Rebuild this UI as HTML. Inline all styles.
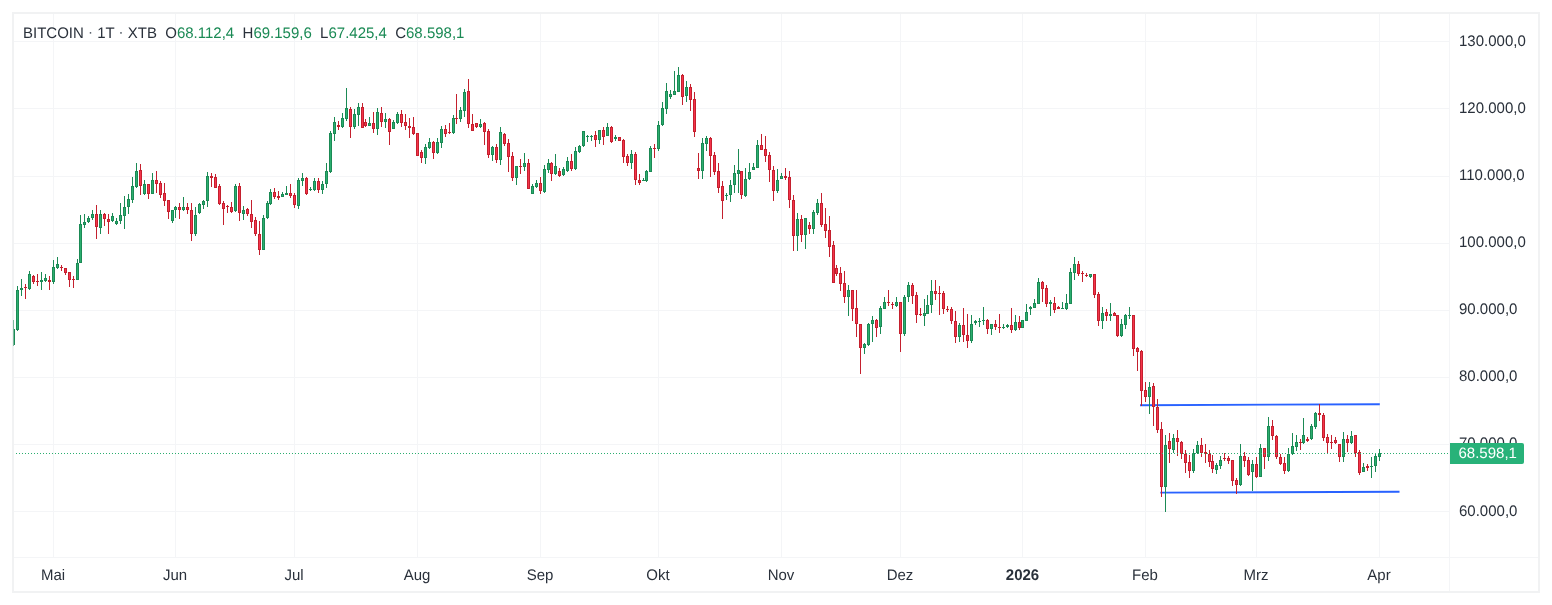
<!DOCTYPE html>
<html lang="de"><head><meta charset="utf-8"><title>BITCOIN</title>
<style>
html,body{margin:0;padding:0;background:#fff;}
body{width:1552px;height:605px;position:relative;overflow:hidden;font-family:"Liberation Sans",sans-serif;font-size:15px;color:#2a313b;text-rendering:geometricPrecision;}
#frame{position:absolute;left:12px;top:12px;width:1524px;height:577px;border:2px solid #f1f2f3;}
#vsep{position:absolute;left:1449px;top:14px;width:1px;height:577px;background:#f4f5f7;}
#hsep{position:absolute;left:14px;top:557px;width:1524px;height:1px;background:#f4f5f7;}
svg{position:absolute;left:0;top:0;}
#legend{position:absolute;left:23px;top:25px;white-space:pre;line-height:18px;height:18px;transform:scaleY(1.02);transform-origin:0 14px;}
#legend .v{color:#1b8a55;}
#legend .d{position:relative;top:-1.5px;color:#59616b;}
.pl{position:absolute;left:1459px;line-height:18px;height:18px;white-space:nowrap;transform:scaleY(1.02);transform-origin:0 4px;}
.tl{position:absolute;top:567px;width:80px;text-align:center;line-height:18px;height:18px;white-space:nowrap;transform:scaleY(1.02);transform-origin:50% 9px;}
.tl.b{font-weight:bold;transform:translateX(0.5px) scaleY(1.02);}
#cur{position:absolute;left:1450px;top:443px;width:74px;height:21px;background:#28b279;border-radius:0 2px 2px 0;color:#fff;line-height:21px;}
#cur span{position:absolute;left:8.5px;top:-1px;transform:translateY(0.7px);}
</style></head><body>
<div id="frame"></div>
<svg width="1552" height="605" viewBox="0 0 1552 605" shape-rendering="crispEdges">
<rect x="14" y="41" width="1435" height="1" fill="#f4f5f7"/>
<rect x="14" y="108" width="1435" height="1" fill="#f4f5f7"/>
<rect x="14" y="176" width="1435" height="1" fill="#f4f5f7"/>
<rect x="14" y="243" width="1435" height="1" fill="#f4f5f7"/>
<rect x="14" y="310" width="1435" height="1" fill="#f4f5f7"/>
<rect x="14" y="377" width="1435" height="1" fill="#f4f5f7"/>
<rect x="14" y="444" width="1435" height="1" fill="#f4f5f7"/>
<rect x="14" y="511" width="1435" height="1" fill="#f4f5f7"/>
<rect x="53" y="14" width="1" height="543" fill="#f4f5f7"/>
<rect x="175" y="14" width="1" height="543" fill="#f4f5f7"/>
<rect x="294" y="14" width="1" height="543" fill="#f4f5f7"/>
<rect x="417" y="14" width="1" height="543" fill="#f4f5f7"/>
<rect x="540" y="14" width="1" height="543" fill="#f4f5f7"/>
<rect x="658" y="14" width="1" height="543" fill="#f4f5f7"/>
<rect x="781" y="14" width="1" height="543" fill="#f4f5f7"/>
<rect x="900" y="14" width="1" height="543" fill="#f4f5f7"/>
<rect x="1022" y="14" width="1" height="543" fill="#f4f5f7"/>
<rect x="1145" y="14" width="1" height="543" fill="#f4f5f7"/>
<rect x="1256" y="14" width="1" height="543" fill="#f4f5f7"/>
<rect x="1379" y="14" width="1" height="543" fill="#f4f5f7"/>
<g shape-rendering="auto" stroke="#2962ff" stroke-width="1.9" stroke-linecap="butt">
<line x1="1140" y1="405.2" x2="1379.8" y2="404.2"/>
<line x1="1160.3" y1="492.6" x2="1399.5" y2="491.7"/>
</g>
<g id="candles">
<rect x="13" y="320" width="1" height="26" fill="#1b8a55" opacity="0.55"/><rect x="14" y="329" width="1" height="16" fill="#1b8a55"/>
<rect x="17" y="286" width="1" height="45" fill="#1b8a55"/>
<rect x="16" y="290" width="3" height="40" fill="#1b8a55"/><rect x="17" y="291" width="1" height="38" fill="#2bae6f"/>
<rect x="21" y="279" width="1" height="17" fill="#1b8a55"/>
<rect x="20" y="288" width="3" height="2" fill="#1b8a55"/>
<rect x="25" y="284" width="1" height="15" fill="#c4202e"/>
<rect x="24" y="287" width="3" height="1" fill="#c4202e"/>
<rect x="29" y="271" width="1" height="19" fill="#1b8a55"/>
<rect x="28" y="274" width="3" height="15" fill="#1b8a55"/><rect x="29" y="275" width="1" height="13" fill="#2bae6f"/>
<rect x="33" y="275" width="1" height="9" fill="#c4202e"/>
<rect x="32" y="276" width="3" height="6" fill="#c4202e"/><rect x="33" y="277" width="1" height="4" fill="#f5334b"/>
<rect x="37" y="274" width="1" height="12" fill="#c4202e"/>
<rect x="36" y="281" width="3" height="1" fill="#c4202e"/>
<rect x="41" y="272" width="1" height="18" fill="#1b8a55"/>
<rect x="40" y="280" width="3" height="2" fill="#1b8a55"/>
<rect x="45" y="274" width="1" height="8" fill="#1b8a55"/>
<rect x="44" y="278" width="3" height="3" fill="#1b8a55"/><rect x="45" y="279" width="1" height="1" fill="#2bae6f"/>
<rect x="49" y="276" width="1" height="14" fill="#c4202e"/>
<rect x="48" y="280" width="3" height="2" fill="#c4202e"/>
<rect x="53" y="260" width="1" height="24" fill="#1b8a55"/>
<rect x="52" y="267" width="3" height="15" fill="#1b8a55"/><rect x="53" y="268" width="1" height="13" fill="#2bae6f"/>
<rect x="57" y="257" width="1" height="12" fill="#1b8a55"/>
<rect x="56" y="264" width="3" height="4" fill="#1b8a55"/><rect x="57" y="265" width="1" height="2" fill="#2bae6f"/>
<rect x="61" y="265" width="1" height="6" fill="#c4202e"/>
<rect x="60" y="267" width="3" height="1" fill="#c4202e"/>
<rect x="65" y="268" width="1" height="7" fill="#c4202e"/>
<rect x="64" y="268" width="3" height="5" fill="#c4202e"/><rect x="65" y="269" width="1" height="3" fill="#f5334b"/>
<rect x="69" y="272" width="1" height="15" fill="#c4202e"/>
<rect x="68" y="272" width="3" height="8" fill="#c4202e"/><rect x="69" y="273" width="1" height="6" fill="#f5334b"/>
<rect x="73" y="276" width="1" height="12" fill="#c4202e"/>
<rect x="72" y="279" width="3" height="1" fill="#c4202e"/>
<rect x="77" y="259" width="1" height="21" fill="#1b8a55"/>
<rect x="76" y="263" width="3" height="17" fill="#1b8a55"/><rect x="77" y="264" width="1" height="15" fill="#2bae6f"/>
<rect x="80" y="215" width="1" height="48" fill="#1b8a55"/>
<rect x="79" y="224" width="3" height="39" fill="#1b8a55"/><rect x="80" y="225" width="1" height="37" fill="#2bae6f"/>
<rect x="84" y="214" width="1" height="14" fill="#1b8a55"/>
<rect x="83" y="222" width="3" height="3" fill="#1b8a55"/><rect x="84" y="223" width="1" height="1" fill="#2bae6f"/>
<rect x="88" y="216" width="1" height="7" fill="#1b8a55"/>
<rect x="87" y="218" width="3" height="4" fill="#1b8a55"/><rect x="88" y="219" width="1" height="2" fill="#2bae6f"/>
<rect x="92" y="210" width="1" height="10" fill="#1b8a55"/>
<rect x="91" y="214" width="3" height="4" fill="#1b8a55"/><rect x="92" y="215" width="1" height="2" fill="#2bae6f"/>
<rect x="96" y="205" width="1" height="34" fill="#c4202e"/>
<rect x="95" y="214" width="3" height="13" fill="#c4202e"/><rect x="96" y="215" width="1" height="11" fill="#f5334b"/>
<rect x="100" y="210" width="1" height="24" fill="#1b8a55"/>
<rect x="99" y="214" width="3" height="14" fill="#1b8a55"/><rect x="100" y="215" width="1" height="12" fill="#2bae6f"/>
<rect x="104" y="213" width="1" height="13" fill="#c4202e"/>
<rect x="103" y="214" width="3" height="5" fill="#c4202e"/><rect x="104" y="215" width="1" height="3" fill="#f5334b"/>
<rect x="108" y="214" width="1" height="20" fill="#c4202e"/>
<rect x="107" y="219" width="3" height="3" fill="#c4202e"/><rect x="108" y="220" width="1" height="1" fill="#f5334b"/>
<rect x="112" y="213" width="1" height="9" fill="#1b8a55"/>
<rect x="111" y="216" width="3" height="5" fill="#1b8a55"/><rect x="112" y="217" width="1" height="3" fill="#2bae6f"/>
<rect x="116" y="218" width="1" height="7" fill="#1b8a55"/>
<rect x="115" y="221" width="3" height="3" fill="#1b8a55"/><rect x="116" y="222" width="1" height="1" fill="#2bae6f"/>
<rect x="120" y="203" width="1" height="21" fill="#1b8a55"/>
<rect x="119" y="215" width="3" height="6" fill="#1b8a55"/><rect x="120" y="216" width="1" height="4" fill="#2bae6f"/>
<rect x="124" y="196" width="1" height="33" fill="#1b8a55"/>
<rect x="123" y="207" width="3" height="9" fill="#1b8a55"/><rect x="124" y="208" width="1" height="7" fill="#2bae6f"/>
<rect x="128" y="194" width="1" height="20" fill="#1b8a55"/>
<rect x="127" y="199" width="3" height="8" fill="#1b8a55"/><rect x="128" y="200" width="1" height="6" fill="#2bae6f"/>
<rect x="132" y="177" width="1" height="26" fill="#1b8a55"/>
<rect x="131" y="186" width="3" height="14" fill="#1b8a55"/><rect x="132" y="187" width="1" height="12" fill="#2bae6f"/>
<rect x="136" y="163" width="1" height="25" fill="#1b8a55"/>
<rect x="135" y="171" width="3" height="16" fill="#1b8a55"/><rect x="136" y="172" width="1" height="14" fill="#2bae6f"/>
<rect x="140" y="164" width="1" height="31" fill="#c4202e"/>
<rect x="139" y="170" width="3" height="16" fill="#c4202e"/><rect x="140" y="171" width="1" height="14" fill="#f5334b"/>
<rect x="144" y="180" width="1" height="15" fill="#1b8a55"/>
<rect x="143" y="184" width="3" height="10" fill="#1b8a55"/><rect x="144" y="185" width="1" height="8" fill="#2bae6f"/>
<rect x="148" y="184" width="1" height="15" fill="#c4202e"/>
<rect x="147" y="184" width="3" height="10" fill="#c4202e"/><rect x="148" y="185" width="1" height="8" fill="#f5334b"/>
<rect x="152" y="173" width="1" height="21" fill="#1b8a55"/>
<rect x="151" y="180" width="3" height="14" fill="#1b8a55"/><rect x="152" y="181" width="1" height="12" fill="#2bae6f"/>
<rect x="156" y="171" width="1" height="22" fill="#c4202e"/>
<rect x="155" y="180" width="3" height="4" fill="#c4202e"/><rect x="156" y="181" width="1" height="2" fill="#f5334b"/>
<rect x="160" y="181" width="1" height="17" fill="#c4202e"/>
<rect x="159" y="183" width="3" height="12" fill="#c4202e"/><rect x="160" y="184" width="1" height="10" fill="#f5334b"/>
<rect x="164" y="183" width="1" height="23" fill="#c4202e"/>
<rect x="163" y="193" width="3" height="8" fill="#c4202e"/><rect x="164" y="194" width="1" height="6" fill="#f5334b"/>
<rect x="168" y="200" width="1" height="19" fill="#c4202e"/>
<rect x="167" y="200" width="3" height="12" fill="#c4202e"/><rect x="168" y="201" width="1" height="10" fill="#f5334b"/>
<rect x="172" y="210" width="1" height="13" fill="#1b8a55"/>
<rect x="171" y="210" width="3" height="11" fill="#1b8a55"/><rect x="172" y="211" width="1" height="9" fill="#2bae6f"/>
<rect x="175" y="206" width="1" height="12" fill="#1b8a55"/>
<rect x="174" y="207" width="3" height="3" fill="#1b8a55"/><rect x="175" y="208" width="1" height="1" fill="#2bae6f"/>
<rect x="179" y="203" width="1" height="16" fill="#c4202e"/>
<rect x="178" y="207" width="3" height="3" fill="#c4202e"/><rect x="179" y="208" width="1" height="1" fill="#f5334b"/>
<rect x="183" y="197" width="1" height="14" fill="#1b8a55"/>
<rect x="182" y="207" width="3" height="3" fill="#1b8a55"/><rect x="183" y="208" width="1" height="1" fill="#2bae6f"/>
<rect x="187" y="203" width="1" height="11" fill="#c4202e"/>
<rect x="186" y="207" width="3" height="3" fill="#c4202e"/><rect x="187" y="208" width="1" height="1" fill="#f5334b"/>
<rect x="191" y="203" width="1" height="38" fill="#c4202e"/>
<rect x="190" y="210" width="3" height="24" fill="#c4202e"/><rect x="191" y="211" width="1" height="22" fill="#f5334b"/>
<rect x="195" y="207" width="1" height="29" fill="#1b8a55"/>
<rect x="194" y="215" width="3" height="19" fill="#1b8a55"/><rect x="195" y="216" width="1" height="17" fill="#2bae6f"/>
<rect x="199" y="203" width="1" height="11" fill="#1b8a55"/>
<rect x="198" y="204" width="3" height="9" fill="#1b8a55"/><rect x="199" y="205" width="1" height="7" fill="#2bae6f"/>
<rect x="203" y="200" width="1" height="9" fill="#1b8a55"/>
<rect x="202" y="201" width="3" height="4" fill="#1b8a55"/><rect x="203" y="202" width="1" height="2" fill="#2bae6f"/>
<rect x="207" y="172" width="1" height="35" fill="#1b8a55"/>
<rect x="206" y="176" width="3" height="25" fill="#1b8a55"/><rect x="207" y="177" width="1" height="23" fill="#2bae6f"/>
<rect x="211" y="173" width="1" height="14" fill="#c4202e"/>
<rect x="210" y="176" width="3" height="2" fill="#c4202e"/>
<rect x="215" y="174" width="1" height="14" fill="#c4202e"/>
<rect x="214" y="177" width="3" height="11" fill="#c4202e"/><rect x="215" y="178" width="1" height="9" fill="#f5334b"/>
<rect x="219" y="184" width="1" height="21" fill="#c4202e"/>
<rect x="218" y="186" width="3" height="18" fill="#c4202e"/><rect x="219" y="187" width="1" height="16" fill="#f5334b"/>
<rect x="223" y="201" width="1" height="24" fill="#c4202e"/>
<rect x="222" y="203" width="3" height="6" fill="#c4202e"/><rect x="223" y="204" width="1" height="4" fill="#f5334b"/>
<rect x="227" y="205" width="1" height="8" fill="#c4202e"/>
<rect x="226" y="206" width="3" height="1" fill="#c4202e"/>
<rect x="231" y="202" width="1" height="11" fill="#c4202e"/>
<rect x="230" y="207" width="3" height="5" fill="#c4202e"/><rect x="231" y="208" width="1" height="3" fill="#f5334b"/>
<rect x="235" y="184" width="1" height="28" fill="#1b8a55"/>
<rect x="234" y="186" width="3" height="25" fill="#1b8a55"/><rect x="235" y="187" width="1" height="23" fill="#2bae6f"/>
<rect x="239" y="183" width="1" height="38" fill="#c4202e"/>
<rect x="238" y="186" width="3" height="27" fill="#c4202e"/><rect x="239" y="187" width="1" height="25" fill="#f5334b"/>
<rect x="243" y="206" width="1" height="14" fill="#1b8a55"/>
<rect x="242" y="210" width="3" height="4" fill="#1b8a55"/><rect x="243" y="211" width="1" height="2" fill="#2bae6f"/>
<rect x="247" y="208" width="1" height="8" fill="#c4202e"/>
<rect x="246" y="209" width="3" height="5" fill="#c4202e"/><rect x="247" y="210" width="1" height="3" fill="#f5334b"/>
<rect x="251" y="200" width="1" height="28" fill="#c4202e"/>
<rect x="250" y="214" width="3" height="8" fill="#c4202e"/><rect x="251" y="215" width="1" height="6" fill="#f5334b"/>
<rect x="255" y="217" width="1" height="19" fill="#c4202e"/>
<rect x="254" y="220" width="3" height="14" fill="#c4202e"/><rect x="255" y="221" width="1" height="12" fill="#f5334b"/>
<rect x="259" y="221" width="1" height="34" fill="#c4202e"/>
<rect x="258" y="234" width="3" height="16" fill="#c4202e"/><rect x="259" y="235" width="1" height="14" fill="#f5334b"/>
<rect x="263" y="215" width="1" height="35" fill="#1b8a55"/>
<rect x="262" y="218" width="3" height="32" fill="#1b8a55"/><rect x="263" y="219" width="1" height="30" fill="#2bae6f"/>
<rect x="267" y="201" width="1" height="18" fill="#1b8a55"/>
<rect x="266" y="203" width="3" height="15" fill="#1b8a55"/><rect x="267" y="204" width="1" height="13" fill="#2bae6f"/>
<rect x="270" y="189" width="1" height="16" fill="#1b8a55"/>
<rect x="269" y="192" width="3" height="12" fill="#1b8a55"/><rect x="270" y="193" width="1" height="10" fill="#2bae6f"/>
<rect x="274" y="188" width="1" height="11" fill="#c4202e"/>
<rect x="273" y="192" width="3" height="5" fill="#c4202e"/><rect x="274" y="193" width="1" height="3" fill="#f5334b"/>
<rect x="278" y="191" width="1" height="9" fill="#c4202e"/>
<rect x="277" y="196" width="3" height="2" fill="#c4202e"/>
<rect x="282" y="192" width="1" height="5" fill="#1b8a55"/>
<rect x="281" y="194" width="3" height="3" fill="#1b8a55"/><rect x="282" y="195" width="1" height="1" fill="#2bae6f"/>
<rect x="286" y="186" width="1" height="9" fill="#1b8a55"/>
<rect x="285" y="193" width="3" height="2" fill="#1b8a55"/>
<rect x="290" y="184" width="1" height="14" fill="#c4202e"/>
<rect x="289" y="193" width="3" height="3" fill="#c4202e"/><rect x="290" y="194" width="1" height="1" fill="#f5334b"/>
<rect x="294" y="193" width="1" height="15" fill="#c4202e"/>
<rect x="293" y="195" width="3" height="10" fill="#c4202e"/><rect x="294" y="196" width="1" height="8" fill="#f5334b"/>
<rect x="298" y="178" width="1" height="31" fill="#1b8a55"/>
<rect x="297" y="180" width="3" height="26" fill="#1b8a55"/><rect x="298" y="181" width="1" height="24" fill="#2bae6f"/>
<rect x="302" y="173" width="1" height="13" fill="#1b8a55"/>
<rect x="301" y="178" width="3" height="3" fill="#1b8a55"/><rect x="302" y="179" width="1" height="1" fill="#2bae6f"/>
<rect x="306" y="177" width="1" height="18" fill="#c4202e"/>
<rect x="305" y="178" width="3" height="16" fill="#c4202e"/><rect x="306" y="179" width="1" height="14" fill="#f5334b"/>
<rect x="310" y="187" width="1" height="4" fill="#1b8a55"/>
<rect x="309" y="189" width="3" height="1" fill="#1b8a55"/>
<rect x="314" y="178" width="1" height="13" fill="#1b8a55"/>
<rect x="313" y="181" width="3" height="9" fill="#1b8a55"/><rect x="314" y="182" width="1" height="7" fill="#2bae6f"/>
<rect x="318" y="178" width="1" height="15" fill="#c4202e"/>
<rect x="317" y="181" width="3" height="9" fill="#c4202e"/><rect x="318" y="182" width="1" height="7" fill="#f5334b"/>
<rect x="322" y="181" width="1" height="13" fill="#1b8a55"/>
<rect x="321" y="184" width="3" height="6" fill="#1b8a55"/><rect x="322" y="185" width="1" height="4" fill="#2bae6f"/>
<rect x="326" y="163" width="1" height="25" fill="#1b8a55"/>
<rect x="325" y="171" width="3" height="13" fill="#1b8a55"/><rect x="326" y="172" width="1" height="11" fill="#2bae6f"/>
<rect x="330" y="131" width="1" height="42" fill="#1b8a55"/>
<rect x="329" y="133" width="3" height="39" fill="#1b8a55"/><rect x="330" y="134" width="1" height="37" fill="#2bae6f"/>
<rect x="334" y="117" width="1" height="24" fill="#1b8a55"/>
<rect x="333" y="122" width="3" height="12" fill="#1b8a55"/><rect x="334" y="123" width="1" height="10" fill="#2bae6f"/>
<rect x="338" y="121" width="1" height="9" fill="#c4202e"/>
<rect x="337" y="125" width="3" height="2" fill="#c4202e"/>
<rect x="342" y="113" width="1" height="15" fill="#1b8a55"/>
<rect x="341" y="118" width="3" height="9" fill="#1b8a55"/><rect x="342" y="119" width="1" height="7" fill="#2bae6f"/>
<rect x="346" y="88" width="1" height="33" fill="#1b8a55"/>
<rect x="345" y="108" width="3" height="11" fill="#1b8a55"/><rect x="346" y="109" width="1" height="9" fill="#2bae6f"/>
<rect x="350" y="107" width="1" height="31" fill="#c4202e"/>
<rect x="349" y="109" width="3" height="18" fill="#c4202e"/><rect x="350" y="110" width="1" height="16" fill="#f5334b"/>
<rect x="354" y="109" width="1" height="20" fill="#1b8a55"/>
<rect x="353" y="114" width="3" height="13" fill="#1b8a55"/><rect x="354" y="115" width="1" height="11" fill="#2bae6f"/>
<rect x="358" y="103" width="1" height="23" fill="#1b8a55"/>
<rect x="357" y="107" width="3" height="8" fill="#1b8a55"/><rect x="358" y="108" width="1" height="6" fill="#2bae6f"/>
<rect x="362" y="103" width="1" height="25" fill="#c4202e"/>
<rect x="361" y="107" width="3" height="21" fill="#c4202e"/><rect x="362" y="108" width="1" height="19" fill="#f5334b"/>
<rect x="365" y="119" width="1" height="8" fill="#c4202e"/>
<rect x="364" y="122" width="3" height="4" fill="#c4202e"/><rect x="365" y="123" width="1" height="2" fill="#f5334b"/>
<rect x="369" y="117" width="1" height="9" fill="#1b8a55"/>
<rect x="368" y="123" width="3" height="3" fill="#1b8a55"/><rect x="369" y="124" width="1" height="1" fill="#2bae6f"/>
<rect x="373" y="112" width="1" height="21" fill="#c4202e"/>
<rect x="372" y="123" width="3" height="6" fill="#c4202e"/><rect x="373" y="124" width="1" height="4" fill="#f5334b"/>
<rect x="377" y="108" width="1" height="27" fill="#1b8a55"/>
<rect x="376" y="112" width="3" height="17" fill="#1b8a55"/><rect x="377" y="113" width="1" height="15" fill="#2bae6f"/>
<rect x="381" y="107" width="1" height="20" fill="#c4202e"/>
<rect x="380" y="113" width="3" height="9" fill="#c4202e"/><rect x="381" y="114" width="1" height="7" fill="#f5334b"/>
<rect x="385" y="113" width="1" height="15" fill="#1b8a55"/>
<rect x="384" y="119" width="3" height="3" fill="#1b8a55"/><rect x="385" y="120" width="1" height="1" fill="#2bae6f"/>
<rect x="389" y="118" width="1" height="27" fill="#c4202e"/>
<rect x="388" y="119" width="3" height="13" fill="#c4202e"/><rect x="389" y="120" width="1" height="11" fill="#f5334b"/>
<rect x="393" y="120" width="1" height="9" fill="#1b8a55"/>
<rect x="392" y="122" width="3" height="7" fill="#1b8a55"/><rect x="393" y="123" width="1" height="5" fill="#2bae6f"/>
<rect x="397" y="112" width="1" height="12" fill="#1b8a55"/>
<rect x="396" y="114" width="3" height="9" fill="#1b8a55"/><rect x="397" y="115" width="1" height="7" fill="#2bae6f"/>
<rect x="401" y="110" width="1" height="17" fill="#c4202e"/>
<rect x="400" y="114" width="3" height="9" fill="#c4202e"/><rect x="401" y="115" width="1" height="7" fill="#f5334b"/>
<rect x="405" y="114" width="1" height="16" fill="#c4202e"/>
<rect x="404" y="122" width="3" height="4" fill="#c4202e"/><rect x="405" y="123" width="1" height="2" fill="#f5334b"/>
<rect x="409" y="118" width="1" height="20" fill="#c4202e"/>
<rect x="408" y="126" width="3" height="2" fill="#c4202e"/>
<rect x="413" y="117" width="1" height="18" fill="#c4202e"/>
<rect x="412" y="127" width="3" height="7" fill="#c4202e"/><rect x="413" y="128" width="1" height="5" fill="#f5334b"/>
<rect x="417" y="133" width="1" height="23" fill="#c4202e"/>
<rect x="416" y="133" width="3" height="23" fill="#c4202e"/><rect x="417" y="134" width="1" height="21" fill="#f5334b"/>
<rect x="421" y="150" width="1" height="13" fill="#c4202e"/>
<rect x="420" y="152" width="3" height="6" fill="#c4202e"/><rect x="421" y="153" width="1" height="4" fill="#f5334b"/>
<rect x="425" y="144" width="1" height="20" fill="#1b8a55"/>
<rect x="424" y="147" width="3" height="11" fill="#1b8a55"/><rect x="425" y="148" width="1" height="9" fill="#2bae6f"/>
<rect x="429" y="138" width="1" height="11" fill="#1b8a55"/>
<rect x="428" y="142" width="3" height="6" fill="#1b8a55"/><rect x="429" y="143" width="1" height="4" fill="#2bae6f"/>
<rect x="433" y="141" width="1" height="18" fill="#c4202e"/>
<rect x="432" y="142" width="3" height="11" fill="#c4202e"/><rect x="433" y="143" width="1" height="9" fill="#f5334b"/>
<rect x="437" y="138" width="1" height="16" fill="#1b8a55"/>
<rect x="436" y="142" width="3" height="11" fill="#1b8a55"/><rect x="437" y="143" width="1" height="9" fill="#2bae6f"/>
<rect x="441" y="126" width="1" height="22" fill="#1b8a55"/>
<rect x="440" y="129" width="3" height="14" fill="#1b8a55"/><rect x="441" y="130" width="1" height="12" fill="#2bae6f"/>
<rect x="445" y="125" width="1" height="12" fill="#c4202e"/>
<rect x="444" y="129" width="3" height="5" fill="#c4202e"/><rect x="445" y="130" width="1" height="3" fill="#f5334b"/>
<rect x="449" y="123" width="1" height="11" fill="#c4202e"/>
<rect x="448" y="132" width="3" height="1" fill="#c4202e"/>
<rect x="453" y="115" width="1" height="19" fill="#1b8a55"/>
<rect x="452" y="118" width="3" height="15" fill="#1b8a55"/><rect x="453" y="119" width="1" height="13" fill="#2bae6f"/>
<rect x="456" y="94" width="1" height="30" fill="#c4202e"/>
<rect x="455" y="118" width="3" height="1" fill="#c4202e"/>
<rect x="460" y="107" width="1" height="15" fill="#1b8a55"/>
<rect x="459" y="110" width="3" height="9" fill="#1b8a55"/><rect x="460" y="111" width="1" height="7" fill="#2bae6f"/>
<rect x="464" y="89" width="1" height="28" fill="#1b8a55"/>
<rect x="463" y="92" width="3" height="19" fill="#1b8a55"/><rect x="464" y="93" width="1" height="17" fill="#2bae6f"/>
<rect x="468" y="79" width="1" height="49" fill="#c4202e"/>
<rect x="467" y="91" width="3" height="33" fill="#c4202e"/><rect x="468" y="92" width="1" height="31" fill="#f5334b"/>
<rect x="472" y="114" width="1" height="17" fill="#c4202e"/>
<rect x="471" y="124" width="3" height="7" fill="#c4202e"/><rect x="472" y="125" width="1" height="5" fill="#f5334b"/>
<rect x="476" y="123" width="1" height="5" fill="#c4202e"/>
<rect x="475" y="123" width="3" height="4" fill="#c4202e"/><rect x="476" y="124" width="1" height="2" fill="#f5334b"/>
<rect x="480" y="119" width="1" height="9" fill="#1b8a55"/>
<rect x="479" y="124" width="3" height="3" fill="#1b8a55"/><rect x="480" y="125" width="1" height="1" fill="#2bae6f"/>
<rect x="484" y="122" width="1" height="23" fill="#c4202e"/>
<rect x="483" y="123" width="3" height="9" fill="#c4202e"/><rect x="484" y="124" width="1" height="7" fill="#f5334b"/>
<rect x="488" y="129" width="1" height="29" fill="#c4202e"/>
<rect x="487" y="131" width="3" height="24" fill="#c4202e"/><rect x="488" y="132" width="1" height="22" fill="#f5334b"/>
<rect x="492" y="146" width="1" height="15" fill="#1b8a55"/>
<rect x="491" y="147" width="3" height="8" fill="#1b8a55"/><rect x="492" y="148" width="1" height="6" fill="#2bae6f"/>
<rect x="496" y="144" width="1" height="19" fill="#c4202e"/>
<rect x="495" y="147" width="3" height="13" fill="#c4202e"/><rect x="496" y="148" width="1" height="11" fill="#f5334b"/>
<rect x="500" y="127" width="1" height="38" fill="#1b8a55"/>
<rect x="499" y="132" width="3" height="28" fill="#1b8a55"/><rect x="500" y="133" width="1" height="26" fill="#2bae6f"/>
<rect x="504" y="133" width="1" height="13" fill="#c4202e"/>
<rect x="503" y="134" width="3" height="10" fill="#c4202e"/><rect x="504" y="135" width="1" height="8" fill="#f5334b"/>
<rect x="508" y="139" width="1" height="33" fill="#c4202e"/>
<rect x="507" y="143" width="3" height="14" fill="#c4202e"/><rect x="508" y="144" width="1" height="12" fill="#f5334b"/>
<rect x="512" y="152" width="1" height="29" fill="#c4202e"/>
<rect x="511" y="156" width="3" height="22" fill="#c4202e"/><rect x="512" y="157" width="1" height="20" fill="#f5334b"/>
<rect x="516" y="166" width="1" height="19" fill="#1b8a55"/>
<rect x="515" y="166" width="3" height="12" fill="#1b8a55"/><rect x="516" y="167" width="1" height="10" fill="#2bae6f"/>
<rect x="520" y="159" width="1" height="15" fill="#c4202e"/>
<rect x="519" y="166" width="3" height="1" fill="#c4202e"/>
<rect x="524" y="153" width="1" height="18" fill="#1b8a55"/>
<rect x="523" y="163" width="3" height="4" fill="#1b8a55"/><rect x="524" y="164" width="1" height="2" fill="#2bae6f"/>
<rect x="528" y="159" width="1" height="30" fill="#c4202e"/>
<rect x="527" y="163" width="3" height="26" fill="#c4202e"/><rect x="528" y="164" width="1" height="24" fill="#f5334b"/>
<rect x="532" y="184" width="1" height="10" fill="#1b8a55"/>
<rect x="531" y="186" width="3" height="8" fill="#1b8a55"/><rect x="532" y="187" width="1" height="6" fill="#2bae6f"/>
<rect x="536" y="180" width="1" height="8" fill="#1b8a55"/>
<rect x="535" y="183" width="3" height="4" fill="#1b8a55"/><rect x="536" y="184" width="1" height="2" fill="#2bae6f"/>
<rect x="540" y="177" width="1" height="17" fill="#c4202e"/>
<rect x="539" y="183" width="3" height="8" fill="#c4202e"/><rect x="540" y="184" width="1" height="6" fill="#f5334b"/>
<rect x="544" y="165" width="1" height="28" fill="#1b8a55"/>
<rect x="543" y="169" width="3" height="23" fill="#1b8a55"/><rect x="544" y="170" width="1" height="21" fill="#2bae6f"/>
<rect x="548" y="159" width="1" height="14" fill="#1b8a55"/>
<rect x="547" y="163" width="3" height="7" fill="#1b8a55"/><rect x="548" y="164" width="1" height="5" fill="#2bae6f"/>
<rect x="551" y="162" width="1" height="19" fill="#c4202e"/>
<rect x="550" y="163" width="3" height="11" fill="#c4202e"/><rect x="551" y="164" width="1" height="9" fill="#f5334b"/>
<rect x="555" y="154" width="1" height="21" fill="#1b8a55"/>
<rect x="554" y="166" width="3" height="8" fill="#1b8a55"/><rect x="555" y="167" width="1" height="6" fill="#2bae6f"/>
<rect x="559" y="168" width="1" height="9" fill="#c4202e"/>
<rect x="558" y="171" width="3" height="5" fill="#c4202e"/><rect x="559" y="172" width="1" height="3" fill="#f5334b"/>
<rect x="563" y="167" width="1" height="9" fill="#1b8a55"/>
<rect x="562" y="169" width="3" height="6" fill="#1b8a55"/><rect x="563" y="170" width="1" height="4" fill="#2bae6f"/>
<rect x="567" y="157" width="1" height="15" fill="#1b8a55"/>
<rect x="566" y="161" width="3" height="10" fill="#1b8a55"/><rect x="567" y="162" width="1" height="8" fill="#2bae6f"/>
<rect x="571" y="154" width="1" height="17" fill="#c4202e"/>
<rect x="570" y="161" width="3" height="8" fill="#c4202e"/><rect x="571" y="162" width="1" height="6" fill="#f5334b"/>
<rect x="575" y="147" width="1" height="23" fill="#1b8a55"/>
<rect x="574" y="151" width="3" height="18" fill="#1b8a55"/><rect x="575" y="152" width="1" height="16" fill="#2bae6f"/>
<rect x="579" y="145" width="1" height="8" fill="#1b8a55"/>
<rect x="578" y="146" width="3" height="6" fill="#1b8a55"/><rect x="579" y="147" width="1" height="4" fill="#2bae6f"/>
<rect x="583" y="131" width="1" height="16" fill="#1b8a55"/>
<rect x="582" y="131" width="3" height="15" fill="#1b8a55"/><rect x="583" y="132" width="1" height="13" fill="#2bae6f"/>
<rect x="587" y="135" width="1" height="7" fill="#1b8a55"/>
<rect x="586" y="136" width="3" height="1" fill="#1b8a55"/>
<rect x="591" y="135" width="1" height="6" fill="#1b8a55"/>
<rect x="590" y="136" width="3" height="1" fill="#1b8a55"/>
<rect x="595" y="131" width="1" height="16" fill="#c4202e"/>
<rect x="594" y="135" width="3" height="5" fill="#c4202e"/><rect x="595" y="136" width="1" height="3" fill="#f5334b"/>
<rect x="599" y="130" width="1" height="14" fill="#1b8a55"/>
<rect x="598" y="130" width="3" height="10" fill="#1b8a55"/><rect x="599" y="131" width="1" height="8" fill="#2bae6f"/>
<rect x="603" y="127" width="1" height="18" fill="#c4202e"/>
<rect x="602" y="130" width="3" height="7" fill="#c4202e"/><rect x="603" y="131" width="1" height="5" fill="#f5334b"/>
<rect x="607" y="123" width="1" height="13" fill="#1b8a55"/>
<rect x="606" y="127" width="3" height="9" fill="#1b8a55"/><rect x="607" y="128" width="1" height="7" fill="#2bae6f"/>
<rect x="611" y="126" width="1" height="17" fill="#c4202e"/>
<rect x="610" y="127" width="3" height="15" fill="#c4202e"/><rect x="611" y="128" width="1" height="13" fill="#f5334b"/>
<rect x="615" y="135" width="1" height="6" fill="#1b8a55"/>
<rect x="614" y="137" width="3" height="2" fill="#1b8a55"/>
<rect x="619" y="137" width="1" height="4" fill="#c4202e"/>
<rect x="618" y="137" width="3" height="4" fill="#c4202e"/><rect x="619" y="138" width="1" height="2" fill="#f5334b"/>
<rect x="623" y="139" width="1" height="24" fill="#c4202e"/>
<rect x="622" y="140" width="3" height="17" fill="#c4202e"/><rect x="623" y="141" width="1" height="15" fill="#f5334b"/>
<rect x="627" y="154" width="1" height="12" fill="#c4202e"/>
<rect x="626" y="156" width="3" height="7" fill="#c4202e"/><rect x="627" y="157" width="1" height="5" fill="#f5334b"/>
<rect x="631" y="150" width="1" height="19" fill="#1b8a55"/>
<rect x="630" y="154" width="3" height="9" fill="#1b8a55"/><rect x="631" y="155" width="1" height="7" fill="#2bae6f"/>
<rect x="635" y="152" width="1" height="33" fill="#c4202e"/>
<rect x="634" y="154" width="3" height="26" fill="#c4202e"/><rect x="635" y="155" width="1" height="24" fill="#f5334b"/>
<rect x="639" y="174" width="1" height="11" fill="#c4202e"/>
<rect x="638" y="180" width="3" height="3" fill="#c4202e"/><rect x="639" y="181" width="1" height="1" fill="#f5334b"/>
<rect x="643" y="178" width="1" height="3" fill="#1b8a55"/>
<rect x="642" y="180" width="3" height="1" fill="#1b8a55"/>
<rect x="646" y="170" width="1" height="12" fill="#1b8a55"/>
<rect x="645" y="171" width="3" height="10" fill="#1b8a55"/><rect x="646" y="172" width="1" height="8" fill="#2bae6f"/>
<rect x="650" y="146" width="1" height="26" fill="#1b8a55"/>
<rect x="649" y="148" width="3" height="24" fill="#1b8a55"/><rect x="650" y="149" width="1" height="22" fill="#2bae6f"/>
<rect x="654" y="144" width="1" height="14" fill="#c4202e"/>
<rect x="653" y="148" width="3" height="1" fill="#c4202e"/>
<rect x="658" y="121" width="1" height="30" fill="#1b8a55"/>
<rect x="657" y="125" width="3" height="24" fill="#1b8a55"/><rect x="658" y="126" width="1" height="22" fill="#2bae6f"/>
<rect x="662" y="102" width="1" height="24" fill="#1b8a55"/>
<rect x="661" y="108" width="3" height="17" fill="#1b8a55"/><rect x="662" y="109" width="1" height="15" fill="#2bae6f"/>
<rect x="666" y="83" width="1" height="31" fill="#1b8a55"/>
<rect x="665" y="91" width="3" height="18" fill="#1b8a55"/><rect x="666" y="92" width="1" height="16" fill="#2bae6f"/>
<rect x="670" y="90" width="1" height="9" fill="#1b8a55"/>
<rect x="669" y="94" width="3" height="3" fill="#1b8a55"/><rect x="670" y="95" width="1" height="1" fill="#2bae6f"/>
<rect x="674" y="71" width="1" height="24" fill="#1b8a55"/>
<rect x="673" y="91" width="3" height="4" fill="#1b8a55"/><rect x="674" y="92" width="1" height="2" fill="#2bae6f"/>
<rect x="678" y="67" width="1" height="25" fill="#1b8a55"/>
<rect x="677" y="75" width="3" height="17" fill="#1b8a55"/><rect x="678" y="76" width="1" height="15" fill="#2bae6f"/>
<rect x="682" y="74" width="1" height="31" fill="#c4202e"/>
<rect x="681" y="75" width="3" height="22" fill="#c4202e"/><rect x="682" y="76" width="1" height="20" fill="#f5334b"/>
<rect x="686" y="81" width="1" height="21" fill="#1b8a55"/>
<rect x="685" y="87" width="3" height="9" fill="#1b8a55"/><rect x="686" y="88" width="1" height="7" fill="#2bae6f"/>
<rect x="690" y="84" width="1" height="27" fill="#c4202e"/>
<rect x="689" y="87" width="3" height="13" fill="#c4202e"/><rect x="690" y="88" width="1" height="11" fill="#f5334b"/>
<rect x="694" y="92" width="1" height="45" fill="#c4202e"/>
<rect x="693" y="99" width="3" height="33" fill="#c4202e"/><rect x="694" y="100" width="1" height="31" fill="#f5334b"/>
<rect x="698" y="153" width="1" height="26" fill="#c4202e"/>
<rect x="697" y="168" width="3" height="3" fill="#c4202e"/><rect x="698" y="169" width="1" height="1" fill="#f5334b"/>
<rect x="702" y="138" width="1" height="41" fill="#1b8a55"/>
<rect x="701" y="143" width="3" height="28" fill="#1b8a55"/><rect x="702" y="144" width="1" height="26" fill="#2bae6f"/>
<rect x="706" y="136" width="1" height="15" fill="#1b8a55"/>
<rect x="705" y="138" width="3" height="6" fill="#1b8a55"/><rect x="706" y="139" width="1" height="4" fill="#2bae6f"/>
<rect x="710" y="137" width="1" height="40" fill="#c4202e"/>
<rect x="709" y="138" width="3" height="18" fill="#c4202e"/><rect x="710" y="139" width="1" height="16" fill="#f5334b"/>
<rect x="714" y="152" width="1" height="23" fill="#c4202e"/>
<rect x="713" y="155" width="3" height="17" fill="#c4202e"/><rect x="714" y="156" width="1" height="15" fill="#f5334b"/>
<rect x="718" y="163" width="1" height="30" fill="#c4202e"/>
<rect x="717" y="171" width="3" height="17" fill="#c4202e"/><rect x="718" y="172" width="1" height="15" fill="#f5334b"/>
<rect x="722" y="181" width="1" height="38" fill="#c4202e"/>
<rect x="721" y="186" width="3" height="15" fill="#c4202e"/><rect x="722" y="187" width="1" height="13" fill="#f5334b"/>
<rect x="726" y="193" width="1" height="7" fill="#1b8a55"/>
<rect x="725" y="195" width="3" height="1" fill="#1b8a55"/>
<rect x="730" y="180" width="1" height="22" fill="#1b8a55"/>
<rect x="729" y="185" width="3" height="10" fill="#1b8a55"/><rect x="730" y="186" width="1" height="8" fill="#2bae6f"/>
<rect x="734" y="165" width="1" height="28" fill="#1b8a55"/>
<rect x="733" y="173" width="3" height="12" fill="#1b8a55"/><rect x="734" y="174" width="1" height="10" fill="#2bae6f"/>
<rect x="738" y="149" width="1" height="44" fill="#1b8a55"/>
<rect x="737" y="170" width="3" height="4" fill="#1b8a55"/><rect x="738" y="171" width="1" height="2" fill="#2bae6f"/>
<rect x="741" y="171" width="1" height="28" fill="#c4202e"/>
<rect x="740" y="171" width="3" height="24" fill="#c4202e"/><rect x="741" y="172" width="1" height="22" fill="#f5334b"/>
<rect x="745" y="168" width="1" height="29" fill="#1b8a55"/>
<rect x="744" y="179" width="3" height="17" fill="#1b8a55"/><rect x="745" y="180" width="1" height="15" fill="#2bae6f"/>
<rect x="749" y="163" width="1" height="17" fill="#1b8a55"/>
<rect x="748" y="172" width="3" height="7" fill="#1b8a55"/><rect x="749" y="173" width="1" height="5" fill="#2bae6f"/>
<rect x="753" y="163" width="1" height="7" fill="#1b8a55"/>
<rect x="752" y="167" width="3" height="3" fill="#1b8a55"/><rect x="753" y="168" width="1" height="1" fill="#2bae6f"/>
<rect x="757" y="140" width="1" height="28" fill="#1b8a55"/>
<rect x="756" y="145" width="3" height="23" fill="#1b8a55"/><rect x="757" y="146" width="1" height="21" fill="#2bae6f"/>
<rect x="761" y="134" width="1" height="16" fill="#c4202e"/>
<rect x="760" y="145" width="3" height="5" fill="#c4202e"/><rect x="761" y="146" width="1" height="3" fill="#f5334b"/>
<rect x="765" y="136" width="1" height="26" fill="#c4202e"/>
<rect x="764" y="149" width="3" height="7" fill="#c4202e"/><rect x="765" y="150" width="1" height="5" fill="#f5334b"/>
<rect x="769" y="152" width="1" height="30" fill="#c4202e"/>
<rect x="768" y="155" width="3" height="15" fill="#c4202e"/><rect x="769" y="156" width="1" height="13" fill="#f5334b"/>
<rect x="773" y="166" width="1" height="35" fill="#c4202e"/>
<rect x="772" y="170" width="3" height="21" fill="#c4202e"/><rect x="773" y="171" width="1" height="19" fill="#f5334b"/>
<rect x="777" y="169" width="1" height="24" fill="#1b8a55"/>
<rect x="776" y="180" width="3" height="11" fill="#1b8a55"/><rect x="777" y="181" width="1" height="9" fill="#2bae6f"/>
<rect x="781" y="173" width="1" height="6" fill="#1b8a55"/>
<rect x="780" y="176" width="3" height="3" fill="#1b8a55"/><rect x="781" y="177" width="1" height="1" fill="#2bae6f"/>
<rect x="785" y="168" width="1" height="12" fill="#c4202e"/>
<rect x="784" y="176" width="3" height="2" fill="#c4202e"/>
<rect x="789" y="171" width="1" height="37" fill="#c4202e"/>
<rect x="788" y="177" width="3" height="23" fill="#c4202e"/><rect x="789" y="178" width="1" height="21" fill="#f5334b"/>
<rect x="793" y="195" width="1" height="56" fill="#c4202e"/>
<rect x="792" y="200" width="3" height="36" fill="#c4202e"/><rect x="793" y="201" width="1" height="34" fill="#f5334b"/>
<rect x="797" y="213" width="1" height="38" fill="#1b8a55"/>
<rect x="796" y="219" width="3" height="17" fill="#1b8a55"/><rect x="797" y="220" width="1" height="15" fill="#2bae6f"/>
<rect x="801" y="215" width="1" height="27" fill="#c4202e"/>
<rect x="800" y="219" width="3" height="16" fill="#c4202e"/><rect x="801" y="220" width="1" height="14" fill="#f5334b"/>
<rect x="805" y="218" width="1" height="31" fill="#1b8a55"/>
<rect x="804" y="218" width="3" height="17" fill="#1b8a55"/><rect x="805" y="219" width="1" height="15" fill="#2bae6f"/>
<rect x="809" y="222" width="1" height="12" fill="#c4202e"/>
<rect x="808" y="225" width="3" height="4" fill="#c4202e"/><rect x="809" y="226" width="1" height="2" fill="#f5334b"/>
<rect x="813" y="210" width="1" height="24" fill="#1b8a55"/>
<rect x="812" y="212" width="3" height="17" fill="#1b8a55"/><rect x="813" y="213" width="1" height="15" fill="#2bae6f"/>
<rect x="817" y="199" width="1" height="16" fill="#1b8a55"/>
<rect x="816" y="203" width="3" height="10" fill="#1b8a55"/><rect x="817" y="204" width="1" height="8" fill="#2bae6f"/>
<rect x="821" y="193" width="1" height="34" fill="#c4202e"/>
<rect x="820" y="203" width="3" height="22" fill="#c4202e"/><rect x="821" y="204" width="1" height="20" fill="#f5334b"/>
<rect x="825" y="208" width="1" height="30" fill="#c4202e"/>
<rect x="824" y="224" width="3" height="7" fill="#c4202e"/><rect x="825" y="225" width="1" height="5" fill="#f5334b"/>
<rect x="829" y="216" width="1" height="41" fill="#c4202e"/>
<rect x="828" y="230" width="3" height="17" fill="#c4202e"/><rect x="829" y="231" width="1" height="15" fill="#f5334b"/>
<rect x="833" y="241" width="1" height="42" fill="#c4202e"/>
<rect x="832" y="245" width="3" height="38" fill="#c4202e"/><rect x="833" y="246" width="1" height="36" fill="#f5334b"/>
<rect x="836" y="265" width="1" height="11" fill="#c4202e"/>
<rect x="835" y="268" width="3" height="6" fill="#c4202e"/><rect x="836" y="269" width="1" height="4" fill="#f5334b"/>
<rect x="840" y="267" width="1" height="24" fill="#c4202e"/>
<rect x="839" y="273" width="3" height="11" fill="#c4202e"/><rect x="840" y="274" width="1" height="9" fill="#f5334b"/>
<rect x="844" y="271" width="1" height="32" fill="#c4202e"/>
<rect x="843" y="283" width="3" height="14" fill="#c4202e"/><rect x="844" y="284" width="1" height="12" fill="#f5334b"/>
<rect x="848" y="285" width="1" height="31" fill="#1b8a55"/>
<rect x="847" y="290" width="3" height="7" fill="#1b8a55"/><rect x="848" y="291" width="1" height="5" fill="#2bae6f"/>
<rect x="852" y="290" width="1" height="31" fill="#c4202e"/>
<rect x="851" y="290" width="3" height="19" fill="#c4202e"/><rect x="852" y="291" width="1" height="17" fill="#f5334b"/>
<rect x="856" y="290" width="1" height="47" fill="#c4202e"/>
<rect x="855" y="308" width="3" height="16" fill="#c4202e"/><rect x="856" y="309" width="1" height="14" fill="#f5334b"/>
<rect x="860" y="324" width="1" height="50" fill="#c4202e"/>
<rect x="859" y="324" width="3" height="24" fill="#c4202e"/><rect x="860" y="325" width="1" height="22" fill="#f5334b"/>
<rect x="864" y="343" width="1" height="11" fill="#1b8a55"/>
<rect x="863" y="344" width="3" height="4" fill="#1b8a55"/><rect x="864" y="345" width="1" height="2" fill="#2bae6f"/>
<rect x="868" y="323" width="1" height="23" fill="#1b8a55"/>
<rect x="867" y="324" width="3" height="21" fill="#1b8a55"/><rect x="868" y="325" width="1" height="19" fill="#2bae6f"/>
<rect x="872" y="316" width="1" height="26" fill="#1b8a55"/>
<rect x="871" y="320" width="3" height="4" fill="#1b8a55"/><rect x="872" y="321" width="1" height="2" fill="#2bae6f"/>
<rect x="876" y="319" width="1" height="18" fill="#c4202e"/>
<rect x="875" y="320" width="3" height="8" fill="#c4202e"/><rect x="876" y="321" width="1" height="6" fill="#f5334b"/>
<rect x="880" y="306" width="1" height="28" fill="#1b8a55"/>
<rect x="879" y="308" width="3" height="19" fill="#1b8a55"/><rect x="880" y="309" width="1" height="17" fill="#2bae6f"/>
<rect x="884" y="297" width="1" height="12" fill="#1b8a55"/>
<rect x="883" y="302" width="3" height="7" fill="#1b8a55"/><rect x="884" y="303" width="1" height="5" fill="#2bae6f"/>
<rect x="888" y="290" width="1" height="16" fill="#c4202e"/>
<rect x="887" y="302" width="3" height="1" fill="#c4202e"/>
<rect x="892" y="302" width="1" height="7" fill="#c4202e"/>
<rect x="891" y="304" width="3" height="1" fill="#c4202e"/>
<rect x="896" y="297" width="1" height="10" fill="#1b8a55"/>
<rect x="895" y="302" width="3" height="4" fill="#1b8a55"/><rect x="896" y="303" width="1" height="2" fill="#2bae6f"/>
<rect x="900" y="302" width="1" height="50" fill="#c4202e"/>
<rect x="899" y="302" width="3" height="32" fill="#c4202e"/><rect x="900" y="303" width="1" height="30" fill="#f5334b"/>
<rect x="904" y="295" width="1" height="41" fill="#1b8a55"/>
<rect x="903" y="297" width="3" height="37" fill="#1b8a55"/><rect x="904" y="298" width="1" height="35" fill="#2bae6f"/>
<rect x="908" y="282" width="1" height="20" fill="#1b8a55"/>
<rect x="907" y="285" width="3" height="12" fill="#1b8a55"/><rect x="908" y="286" width="1" height="10" fill="#2bae6f"/>
<rect x="912" y="283" width="1" height="21" fill="#c4202e"/>
<rect x="911" y="285" width="3" height="11" fill="#c4202e"/><rect x="912" y="286" width="1" height="9" fill="#f5334b"/>
<rect x="916" y="292" width="1" height="31" fill="#c4202e"/>
<rect x="915" y="295" width="3" height="20" fill="#c4202e"/><rect x="916" y="296" width="1" height="18" fill="#f5334b"/>
<rect x="920" y="308" width="1" height="8" fill="#c4202e"/>
<rect x="919" y="314" width="3" height="1" fill="#c4202e"/>
<rect x="924" y="299" width="1" height="27" fill="#1b8a55"/>
<rect x="923" y="313" width="3" height="3" fill="#1b8a55"/><rect x="924" y="314" width="1" height="1" fill="#2bae6f"/>
<rect x="927" y="295" width="1" height="19" fill="#1b8a55"/>
<rect x="926" y="305" width="3" height="9" fill="#1b8a55"/><rect x="927" y="306" width="1" height="7" fill="#2bae6f"/>
<rect x="931" y="280" width="1" height="33" fill="#1b8a55"/>
<rect x="930" y="291" width="3" height="14" fill="#1b8a55"/><rect x="931" y="292" width="1" height="12" fill="#2bae6f"/>
<rect x="935" y="280" width="1" height="20" fill="#c4202e"/>
<rect x="934" y="291" width="3" height="3" fill="#c4202e"/><rect x="935" y="292" width="1" height="1" fill="#f5334b"/>
<rect x="939" y="286" width="1" height="29" fill="#c4202e"/>
<rect x="938" y="293" width="3" height="1" fill="#c4202e"/>
<rect x="943" y="291" width="1" height="23" fill="#c4202e"/>
<rect x="942" y="293" width="3" height="16" fill="#c4202e"/><rect x="943" y="294" width="1" height="14" fill="#f5334b"/>
<rect x="947" y="306" width="1" height="6" fill="#c4202e"/>
<rect x="946" y="309" width="3" height="1" fill="#c4202e"/>
<rect x="951" y="307" width="1" height="17" fill="#c4202e"/>
<rect x="950" y="309" width="3" height="12" fill="#c4202e"/><rect x="951" y="310" width="1" height="10" fill="#f5334b"/>
<rect x="955" y="311" width="1" height="32" fill="#c4202e"/>
<rect x="954" y="321" width="3" height="16" fill="#c4202e"/><rect x="955" y="322" width="1" height="14" fill="#f5334b"/>
<rect x="959" y="323" width="1" height="19" fill="#1b8a55"/>
<rect x="958" y="325" width="3" height="12" fill="#1b8a55"/><rect x="959" y="326" width="1" height="10" fill="#2bae6f"/>
<rect x="963" y="308" width="1" height="34" fill="#c4202e"/>
<rect x="962" y="325" width="3" height="10" fill="#c4202e"/><rect x="963" y="326" width="1" height="8" fill="#f5334b"/>
<rect x="967" y="314" width="1" height="34" fill="#c4202e"/>
<rect x="966" y="335" width="3" height="6" fill="#c4202e"/><rect x="967" y="336" width="1" height="4" fill="#f5334b"/>
<rect x="971" y="315" width="1" height="28" fill="#1b8a55"/>
<rect x="970" y="324" width="3" height="17" fill="#1b8a55"/><rect x="971" y="325" width="1" height="15" fill="#2bae6f"/>
<rect x="975" y="320" width="1" height="5" fill="#1b8a55"/>
<rect x="974" y="321" width="3" height="2" fill="#1b8a55"/>
<rect x="979" y="318" width="1" height="9" fill="#1b8a55"/>
<rect x="978" y="321" width="3" height="1" fill="#1b8a55"/>
<rect x="983" y="307" width="1" height="18" fill="#1b8a55"/>
<rect x="982" y="320" width="3" height="1" fill="#1b8a55"/>
<rect x="987" y="319" width="1" height="15" fill="#c4202e"/>
<rect x="986" y="320" width="3" height="9" fill="#c4202e"/><rect x="987" y="321" width="1" height="7" fill="#f5334b"/>
<rect x="991" y="324" width="1" height="11" fill="#1b8a55"/>
<rect x="990" y="324" width="3" height="5" fill="#1b8a55"/><rect x="991" y="325" width="1" height="3" fill="#2bae6f"/>
<rect x="995" y="320" width="1" height="10" fill="#c4202e"/>
<rect x="994" y="324" width="3" height="3" fill="#c4202e"/><rect x="995" y="325" width="1" height="1" fill="#f5334b"/>
<rect x="999" y="314" width="1" height="19" fill="#c4202e"/>
<rect x="998" y="327" width="3" height="1" fill="#c4202e"/>
<rect x="1003" y="324" width="1" height="5" fill="#1b8a55"/>
<rect x="1002" y="327" width="3" height="1" fill="#1b8a55"/>
<rect x="1007" y="324" width="1" height="4" fill="#1b8a55"/>
<rect x="1006" y="325" width="3" height="2" fill="#1b8a55"/>
<rect x="1011" y="308" width="1" height="25" fill="#c4202e"/>
<rect x="1010" y="325" width="3" height="5" fill="#c4202e"/><rect x="1011" y="326" width="1" height="3" fill="#f5334b"/>
<rect x="1015" y="315" width="1" height="16" fill="#1b8a55"/>
<rect x="1014" y="322" width="3" height="8" fill="#1b8a55"/><rect x="1015" y="323" width="1" height="6" fill="#2bae6f"/>
<rect x="1019" y="316" width="1" height="14" fill="#c4202e"/>
<rect x="1018" y="322" width="3" height="6" fill="#c4202e"/><rect x="1019" y="323" width="1" height="4" fill="#f5334b"/>
<rect x="1022" y="320" width="1" height="8" fill="#1b8a55"/>
<rect x="1021" y="320" width="3" height="8" fill="#1b8a55"/><rect x="1022" y="321" width="1" height="6" fill="#2bae6f"/>
<rect x="1026" y="304" width="1" height="17" fill="#1b8a55"/>
<rect x="1025" y="312" width="3" height="9" fill="#1b8a55"/><rect x="1026" y="313" width="1" height="7" fill="#2bae6f"/>
<rect x="1030" y="306" width="1" height="9" fill="#1b8a55"/>
<rect x="1029" y="307" width="3" height="2" fill="#1b8a55"/>
<rect x="1034" y="299" width="1" height="9" fill="#1b8a55"/>
<rect x="1033" y="303" width="3" height="5" fill="#1b8a55"/><rect x="1034" y="304" width="1" height="3" fill="#2bae6f"/>
<rect x="1038" y="278" width="1" height="26" fill="#1b8a55"/>
<rect x="1037" y="282" width="3" height="22" fill="#1b8a55"/><rect x="1038" y="283" width="1" height="20" fill="#2bae6f"/>
<rect x="1042" y="281" width="1" height="21" fill="#c4202e"/>
<rect x="1041" y="282" width="3" height="7" fill="#c4202e"/><rect x="1042" y="283" width="1" height="5" fill="#f5334b"/>
<rect x="1046" y="285" width="1" height="22" fill="#c4202e"/>
<rect x="1045" y="288" width="3" height="16" fill="#c4202e"/><rect x="1046" y="289" width="1" height="14" fill="#f5334b"/>
<rect x="1050" y="300" width="1" height="16" fill="#1b8a55"/>
<rect x="1049" y="302" width="3" height="2" fill="#1b8a55"/>
<rect x="1054" y="297" width="1" height="16" fill="#c4202e"/>
<rect x="1053" y="303" width="3" height="7" fill="#c4202e"/><rect x="1054" y="304" width="1" height="5" fill="#f5334b"/>
<rect x="1058" y="306" width="1" height="3" fill="#c4202e"/>
<rect x="1057" y="307" width="3" height="2" fill="#c4202e"/>
<rect x="1062" y="302" width="1" height="7" fill="#1b8a55"/>
<rect x="1061" y="308" width="3" height="1" fill="#1b8a55"/>
<rect x="1066" y="294" width="1" height="16" fill="#1b8a55"/>
<rect x="1065" y="303" width="3" height="6" fill="#1b8a55"/><rect x="1066" y="304" width="1" height="4" fill="#2bae6f"/>
<rect x="1070" y="268" width="1" height="36" fill="#1b8a55"/>
<rect x="1069" y="272" width="3" height="32" fill="#1b8a55"/><rect x="1070" y="273" width="1" height="30" fill="#2bae6f"/>
<rect x="1074" y="257" width="1" height="23" fill="#1b8a55"/>
<rect x="1073" y="264" width="3" height="9" fill="#1b8a55"/><rect x="1074" y="265" width="1" height="7" fill="#2bae6f"/>
<rect x="1078" y="261" width="1" height="15" fill="#c4202e"/>
<rect x="1077" y="264" width="3" height="10" fill="#c4202e"/><rect x="1078" y="265" width="1" height="8" fill="#f5334b"/>
<rect x="1082" y="271" width="1" height="11" fill="#c4202e"/>
<rect x="1081" y="273" width="3" height="1" fill="#c4202e"/>
<rect x="1086" y="273" width="1" height="4" fill="#c4202e"/>
<rect x="1085" y="275" width="3" height="1" fill="#c4202e"/>
<rect x="1090" y="274" width="1" height="4" fill="#1b8a55"/>
<rect x="1089" y="274" width="3" height="3" fill="#1b8a55"/><rect x="1090" y="275" width="1" height="1" fill="#2bae6f"/>
<rect x="1094" y="274" width="1" height="24" fill="#c4202e"/>
<rect x="1093" y="274" width="3" height="21" fill="#c4202e"/><rect x="1094" y="275" width="1" height="19" fill="#f5334b"/>
<rect x="1098" y="292" width="1" height="34" fill="#c4202e"/>
<rect x="1097" y="294" width="3" height="27" fill="#c4202e"/><rect x="1098" y="295" width="1" height="25" fill="#f5334b"/>
<rect x="1102" y="307" width="1" height="22" fill="#1b8a55"/>
<rect x="1101" y="313" width="3" height="8" fill="#1b8a55"/><rect x="1102" y="314" width="1" height="6" fill="#2bae6f"/>
<rect x="1106" y="309" width="1" height="12" fill="#c4202e"/>
<rect x="1105" y="312" width="3" height="4" fill="#c4202e"/><rect x="1106" y="313" width="1" height="2" fill="#f5334b"/>
<rect x="1110" y="303" width="1" height="18" fill="#1b8a55"/>
<rect x="1109" y="314" width="3" height="2" fill="#1b8a55"/>
<rect x="1114" y="312" width="1" height="4" fill="#c4202e"/>
<rect x="1113" y="313" width="3" height="3" fill="#c4202e"/><rect x="1114" y="314" width="1" height="1" fill="#f5334b"/>
<rect x="1117" y="315" width="1" height="22" fill="#c4202e"/>
<rect x="1116" y="315" width="3" height="21" fill="#c4202e"/><rect x="1117" y="316" width="1" height="19" fill="#f5334b"/>
<rect x="1121" y="319" width="1" height="18" fill="#1b8a55"/>
<rect x="1120" y="324" width="3" height="12" fill="#1b8a55"/><rect x="1121" y="325" width="1" height="10" fill="#2bae6f"/>
<rect x="1125" y="314" width="1" height="15" fill="#1b8a55"/>
<rect x="1124" y="315" width="3" height="10" fill="#1b8a55"/><rect x="1125" y="316" width="1" height="8" fill="#2bae6f"/>
<rect x="1129" y="307" width="1" height="12" fill="#1b8a55"/>
<rect x="1128" y="315" width="3" height="1" fill="#1b8a55"/>
<rect x="1133" y="315" width="1" height="41" fill="#c4202e"/>
<rect x="1132" y="315" width="3" height="34" fill="#c4202e"/><rect x="1133" y="316" width="1" height="32" fill="#f5334b"/>
<rect x="1137" y="347" width="1" height="24" fill="#c4202e"/>
<rect x="1136" y="348" width="3" height="4" fill="#c4202e"/><rect x="1137" y="349" width="1" height="2" fill="#f5334b"/>
<rect x="1141" y="350" width="1" height="56" fill="#c4202e"/>
<rect x="1140" y="351" width="3" height="40" fill="#c4202e"/><rect x="1141" y="352" width="1" height="38" fill="#f5334b"/>
<rect x="1145" y="382" width="1" height="20" fill="#c4202e"/>
<rect x="1144" y="390" width="3" height="7" fill="#c4202e"/><rect x="1145" y="391" width="1" height="5" fill="#f5334b"/>
<rect x="1149" y="382" width="1" height="32" fill="#1b8a55"/>
<rect x="1148" y="387" width="3" height="10" fill="#1b8a55"/><rect x="1149" y="388" width="1" height="8" fill="#2bae6f"/>
<rect x="1153" y="383" width="1" height="43" fill="#c4202e"/>
<rect x="1152" y="386" width="3" height="21" fill="#c4202e"/><rect x="1153" y="387" width="1" height="19" fill="#f5334b"/>
<rect x="1157" y="399" width="1" height="34" fill="#c4202e"/>
<rect x="1156" y="407" width="3" height="23" fill="#c4202e"/><rect x="1157" y="408" width="1" height="21" fill="#f5334b"/>
<rect x="1161" y="422" width="1" height="75" fill="#c4202e"/>
<rect x="1160" y="429" width="3" height="58" fill="#c4202e"/><rect x="1161" y="430" width="1" height="56" fill="#f5334b"/>
<rect x="1165" y="435" width="1" height="77" fill="#1b8a55"/>
<rect x="1164" y="445" width="3" height="42" fill="#1b8a55"/><rect x="1165" y="446" width="1" height="40" fill="#2bae6f"/>
<rect x="1169" y="433" width="1" height="30" fill="#c4202e"/>
<rect x="1168" y="441" width="3" height="8" fill="#c4202e"/><rect x="1169" y="442" width="1" height="6" fill="#f5334b"/>
<rect x="1173" y="434" width="1" height="19" fill="#1b8a55"/>
<rect x="1172" y="438" width="3" height="12" fill="#1b8a55"/><rect x="1173" y="439" width="1" height="10" fill="#2bae6f"/>
<rect x="1177" y="430" width="1" height="26" fill="#c4202e"/>
<rect x="1176" y="438" width="3" height="4" fill="#c4202e"/><rect x="1177" y="439" width="1" height="2" fill="#f5334b"/>
<rect x="1181" y="441" width="1" height="18" fill="#c4202e"/>
<rect x="1180" y="442" width="3" height="12" fill="#c4202e"/><rect x="1181" y="443" width="1" height="10" fill="#f5334b"/>
<rect x="1185" y="450" width="1" height="23" fill="#c4202e"/>
<rect x="1184" y="454" width="3" height="9" fill="#c4202e"/><rect x="1185" y="455" width="1" height="7" fill="#f5334b"/>
<rect x="1189" y="455" width="1" height="23" fill="#c4202e"/>
<rect x="1188" y="462" width="3" height="9" fill="#c4202e"/><rect x="1189" y="463" width="1" height="7" fill="#f5334b"/>
<rect x="1193" y="449" width="1" height="24" fill="#1b8a55"/>
<rect x="1192" y="453" width="3" height="18" fill="#1b8a55"/><rect x="1193" y="454" width="1" height="16" fill="#2bae6f"/>
<rect x="1197" y="441" width="1" height="13" fill="#1b8a55"/>
<rect x="1196" y="445" width="3" height="8" fill="#1b8a55"/><rect x="1197" y="446" width="1" height="6" fill="#2bae6f"/>
<rect x="1201" y="438" width="1" height="19" fill="#c4202e"/>
<rect x="1200" y="445" width="3" height="8" fill="#c4202e"/><rect x="1201" y="446" width="1" height="6" fill="#f5334b"/>
<rect x="1205" y="444" width="1" height="19" fill="#c4202e"/>
<rect x="1204" y="452" width="3" height="2" fill="#c4202e"/>
<rect x="1209" y="450" width="1" height="17" fill="#c4202e"/>
<rect x="1208" y="454" width="3" height="8" fill="#c4202e"/><rect x="1209" y="455" width="1" height="6" fill="#f5334b"/>
<rect x="1212" y="455" width="1" height="18" fill="#c4202e"/>
<rect x="1211" y="461" width="3" height="8" fill="#c4202e"/><rect x="1212" y="462" width="1" height="6" fill="#f5334b"/>
<rect x="1216" y="463" width="1" height="11" fill="#1b8a55"/>
<rect x="1215" y="465" width="3" height="5" fill="#1b8a55"/><rect x="1216" y="466" width="1" height="3" fill="#2bae6f"/>
<rect x="1220" y="456" width="1" height="13" fill="#1b8a55"/>
<rect x="1219" y="460" width="3" height="6" fill="#1b8a55"/><rect x="1220" y="461" width="1" height="4" fill="#2bae6f"/>
<rect x="1224" y="453" width="1" height="8" fill="#c4202e"/>
<rect x="1223" y="458" width="3" height="1" fill="#c4202e"/>
<rect x="1228" y="456" width="1" height="8" fill="#c4202e"/>
<rect x="1227" y="458" width="3" height="3" fill="#c4202e"/><rect x="1228" y="459" width="1" height="1" fill="#f5334b"/>
<rect x="1232" y="460" width="1" height="26" fill="#c4202e"/>
<rect x="1231" y="460" width="3" height="21" fill="#c4202e"/><rect x="1232" y="461" width="1" height="19" fill="#f5334b"/>
<rect x="1236" y="478" width="1" height="16" fill="#c4202e"/>
<rect x="1235" y="480" width="3" height="5" fill="#c4202e"/><rect x="1236" y="481" width="1" height="3" fill="#f5334b"/>
<rect x="1240" y="444" width="1" height="42" fill="#1b8a55"/>
<rect x="1239" y="456" width="3" height="29" fill="#1b8a55"/><rect x="1240" y="457" width="1" height="27" fill="#2bae6f"/>
<rect x="1244" y="452" width="1" height="15" fill="#c4202e"/>
<rect x="1243" y="456" width="3" height="5" fill="#c4202e"/><rect x="1244" y="457" width="1" height="3" fill="#f5334b"/>
<rect x="1248" y="457" width="1" height="19" fill="#c4202e"/>
<rect x="1247" y="460" width="3" height="15" fill="#c4202e"/><rect x="1248" y="461" width="1" height="13" fill="#f5334b"/>
<rect x="1252" y="460" width="1" height="31" fill="#1b8a55"/>
<rect x="1251" y="464" width="3" height="8" fill="#1b8a55"/><rect x="1252" y="465" width="1" height="6" fill="#2bae6f"/>
<rect x="1256" y="457" width="1" height="21" fill="#c4202e"/>
<rect x="1255" y="464" width="3" height="13" fill="#c4202e"/><rect x="1256" y="465" width="1" height="11" fill="#f5334b"/>
<rect x="1260" y="444" width="1" height="33" fill="#1b8a55"/>
<rect x="1259" y="448" width="3" height="29" fill="#1b8a55"/><rect x="1260" y="449" width="1" height="27" fill="#2bae6f"/>
<rect x="1264" y="448" width="1" height="21" fill="#c4202e"/>
<rect x="1263" y="448" width="3" height="9" fill="#c4202e"/><rect x="1264" y="449" width="1" height="7" fill="#f5334b"/>
<rect x="1268" y="417" width="1" height="44" fill="#1b8a55"/>
<rect x="1267" y="426" width="3" height="31" fill="#1b8a55"/><rect x="1268" y="427" width="1" height="29" fill="#2bae6f"/>
<rect x="1272" y="420" width="1" height="20" fill="#c4202e"/>
<rect x="1271" y="426" width="3" height="10" fill="#c4202e"/><rect x="1272" y="427" width="1" height="8" fill="#f5334b"/>
<rect x="1276" y="435" width="1" height="24" fill="#c4202e"/>
<rect x="1275" y="436" width="3" height="21" fill="#c4202e"/><rect x="1276" y="437" width="1" height="19" fill="#f5334b"/>
<rect x="1280" y="454" width="1" height="11" fill="#c4202e"/>
<rect x="1279" y="457" width="3" height="7" fill="#c4202e"/><rect x="1280" y="458" width="1" height="5" fill="#f5334b"/>
<rect x="1284" y="457" width="1" height="17" fill="#c4202e"/>
<rect x="1283" y="463" width="3" height="8" fill="#c4202e"/><rect x="1284" y="464" width="1" height="6" fill="#f5334b"/>
<rect x="1288" y="448" width="1" height="24" fill="#1b8a55"/>
<rect x="1287" y="454" width="3" height="17" fill="#1b8a55"/><rect x="1288" y="455" width="1" height="15" fill="#2bae6f"/>
<rect x="1292" y="433" width="1" height="22" fill="#1b8a55"/>
<rect x="1291" y="446" width="3" height="8" fill="#1b8a55"/><rect x="1292" y="447" width="1" height="6" fill="#2bae6f"/>
<rect x="1296" y="435" width="1" height="16" fill="#1b8a55"/>
<rect x="1295" y="442" width="3" height="5" fill="#1b8a55"/><rect x="1296" y="443" width="1" height="3" fill="#2bae6f"/>
<rect x="1300" y="439" width="1" height="11" fill="#c4202e"/>
<rect x="1299" y="442" width="3" height="1" fill="#c4202e"/>
<rect x="1303" y="418" width="1" height="26" fill="#1b8a55"/>
<rect x="1302" y="435" width="3" height="8" fill="#1b8a55"/><rect x="1303" y="436" width="1" height="6" fill="#2bae6f"/>
<rect x="1307" y="437" width="1" height="5" fill="#c4202e"/>
<rect x="1306" y="439" width="3" height="2" fill="#c4202e"/>
<rect x="1311" y="424" width="1" height="16" fill="#1b8a55"/>
<rect x="1310" y="426" width="3" height="13" fill="#1b8a55"/><rect x="1311" y="427" width="1" height="11" fill="#2bae6f"/>
<rect x="1315" y="412" width="1" height="17" fill="#1b8a55"/>
<rect x="1314" y="413" width="3" height="14" fill="#1b8a55"/><rect x="1315" y="414" width="1" height="12" fill="#2bae6f"/>
<rect x="1319" y="404" width="1" height="17" fill="#c4202e"/>
<rect x="1318" y="413" width="3" height="2" fill="#c4202e"/>
<rect x="1323" y="413" width="1" height="28" fill="#c4202e"/>
<rect x="1322" y="415" width="3" height="23" fill="#c4202e"/><rect x="1323" y="416" width="1" height="21" fill="#f5334b"/>
<rect x="1327" y="434" width="1" height="19" fill="#c4202e"/>
<rect x="1326" y="437" width="3" height="6" fill="#c4202e"/><rect x="1327" y="438" width="1" height="4" fill="#f5334b"/>
<rect x="1331" y="435" width="1" height="14" fill="#c4202e"/>
<rect x="1330" y="442" width="3" height="1" fill="#c4202e"/>
<rect x="1335" y="437" width="1" height="7" fill="#c4202e"/>
<rect x="1334" y="440" width="3" height="3" fill="#c4202e"/><rect x="1335" y="441" width="1" height="1" fill="#f5334b"/>
<rect x="1339" y="444" width="1" height="18" fill="#c4202e"/>
<rect x="1338" y="444" width="3" height="13" fill="#c4202e"/><rect x="1339" y="445" width="1" height="11" fill="#f5334b"/>
<rect x="1343" y="432" width="1" height="30" fill="#1b8a55"/>
<rect x="1342" y="439" width="3" height="18" fill="#1b8a55"/><rect x="1343" y="440" width="1" height="16" fill="#2bae6f"/>
<rect x="1347" y="435" width="1" height="17" fill="#c4202e"/>
<rect x="1346" y="439" width="3" height="4" fill="#c4202e"/><rect x="1347" y="440" width="1" height="2" fill="#f5334b"/>
<rect x="1351" y="431" width="1" height="13" fill="#1b8a55"/>
<rect x="1350" y="436" width="3" height="7" fill="#1b8a55"/><rect x="1351" y="437" width="1" height="5" fill="#2bae6f"/>
<rect x="1355" y="435" width="1" height="22" fill="#c4202e"/>
<rect x="1354" y="435" width="3" height="18" fill="#c4202e"/><rect x="1355" y="436" width="1" height="16" fill="#f5334b"/>
<rect x="1359" y="450" width="1" height="25" fill="#c4202e"/>
<rect x="1358" y="452" width="3" height="21" fill="#c4202e"/><rect x="1359" y="453" width="1" height="19" fill="#f5334b"/>
<rect x="1363" y="463" width="1" height="9" fill="#1b8a55"/>
<rect x="1362" y="467" width="3" height="5" fill="#1b8a55"/><rect x="1363" y="468" width="1" height="3" fill="#2bae6f"/>
<rect x="1367" y="464" width="1" height="7" fill="#c4202e"/>
<rect x="1366" y="466" width="3" height="2" fill="#c4202e"/>
<rect x="1371" y="457" width="1" height="21" fill="#1b8a55"/>
<rect x="1370" y="466" width="3" height="1" fill="#1b8a55"/>
<rect x="1375" y="453" width="1" height="19" fill="#1b8a55"/>
<rect x="1374" y="456" width="3" height="10" fill="#1b8a55"/><rect x="1375" y="457" width="1" height="8" fill="#2bae6f"/>
<rect x="1379" y="449" width="1" height="12" fill="#1b8a55"/>
<rect x="1378" y="453" width="3" height="4" fill="#1b8a55"/><rect x="1379" y="454" width="1" height="2" fill="#2bae6f"/>
</g>
<g id="dots"><rect x="16" y="453" width="1" height="1" fill="#2bae6f"/><rect x="19" y="453" width="1" height="1" fill="#2bae6f"/><rect x="22" y="453" width="1" height="1" fill="#2bae6f"/><rect x="25" y="453" width="1" height="1" fill="#2bae6f"/><rect x="28" y="453" width="1" height="1" fill="#2bae6f"/><rect x="31" y="453" width="1" height="1" fill="#2bae6f"/><rect x="34" y="453" width="1" height="1" fill="#2bae6f"/><rect x="37" y="453" width="1" height="1" fill="#2bae6f"/><rect x="40" y="453" width="1" height="1" fill="#2bae6f"/><rect x="43" y="453" width="1" height="1" fill="#2bae6f"/><rect x="46" y="453" width="1" height="1" fill="#2bae6f"/><rect x="49" y="453" width="1" height="1" fill="#2bae6f"/><rect x="52" y="453" width="1" height="1" fill="#2bae6f"/><rect x="55" y="453" width="1" height="1" fill="#2bae6f"/><rect x="58" y="453" width="1" height="1" fill="#2bae6f"/><rect x="61" y="453" width="1" height="1" fill="#2bae6f"/><rect x="64" y="453" width="1" height="1" fill="#2bae6f"/><rect x="67" y="453" width="1" height="1" fill="#2bae6f"/><rect x="70" y="453" width="1" height="1" fill="#2bae6f"/><rect x="73" y="453" width="1" height="1" fill="#2bae6f"/><rect x="76" y="453" width="1" height="1" fill="#2bae6f"/><rect x="79" y="453" width="1" height="1" fill="#2bae6f"/><rect x="82" y="453" width="1" height="1" fill="#2bae6f"/><rect x="85" y="453" width="1" height="1" fill="#2bae6f"/><rect x="88" y="453" width="1" height="1" fill="#2bae6f"/><rect x="91" y="453" width="1" height="1" fill="#2bae6f"/><rect x="94" y="453" width="1" height="1" fill="#2bae6f"/><rect x="97" y="453" width="1" height="1" fill="#2bae6f"/><rect x="100" y="453" width="1" height="1" fill="#2bae6f"/><rect x="103" y="453" width="1" height="1" fill="#2bae6f"/><rect x="106" y="453" width="1" height="1" fill="#2bae6f"/><rect x="109" y="453" width="1" height="1" fill="#2bae6f"/><rect x="112" y="453" width="1" height="1" fill="#2bae6f"/><rect x="115" y="453" width="1" height="1" fill="#2bae6f"/><rect x="118" y="453" width="1" height="1" fill="#2bae6f"/><rect x="121" y="453" width="1" height="1" fill="#2bae6f"/><rect x="124" y="453" width="1" height="1" fill="#2bae6f"/><rect x="127" y="453" width="1" height="1" fill="#2bae6f"/><rect x="130" y="453" width="1" height="1" fill="#2bae6f"/><rect x="133" y="453" width="1" height="1" fill="#2bae6f"/><rect x="136" y="453" width="1" height="1" fill="#2bae6f"/><rect x="139" y="453" width="1" height="1" fill="#2bae6f"/><rect x="142" y="453" width="1" height="1" fill="#2bae6f"/><rect x="145" y="453" width="1" height="1" fill="#2bae6f"/><rect x="148" y="453" width="1" height="1" fill="#2bae6f"/><rect x="151" y="453" width="1" height="1" fill="#2bae6f"/><rect x="154" y="453" width="1" height="1" fill="#2bae6f"/><rect x="157" y="453" width="1" height="1" fill="#2bae6f"/><rect x="160" y="453" width="1" height="1" fill="#2bae6f"/><rect x="163" y="453" width="1" height="1" fill="#2bae6f"/><rect x="166" y="453" width="1" height="1" fill="#2bae6f"/><rect x="169" y="453" width="1" height="1" fill="#2bae6f"/><rect x="172" y="453" width="1" height="1" fill="#2bae6f"/><rect x="175" y="453" width="1" height="1" fill="#2bae6f"/><rect x="178" y="453" width="1" height="1" fill="#2bae6f"/><rect x="181" y="453" width="1" height="1" fill="#2bae6f"/><rect x="184" y="453" width="1" height="1" fill="#2bae6f"/><rect x="187" y="453" width="1" height="1" fill="#2bae6f"/><rect x="190" y="453" width="1" height="1" fill="#2bae6f"/><rect x="193" y="453" width="1" height="1" fill="#2bae6f"/><rect x="196" y="453" width="1" height="1" fill="#2bae6f"/><rect x="199" y="453" width="1" height="1" fill="#2bae6f"/><rect x="202" y="453" width="1" height="1" fill="#2bae6f"/><rect x="205" y="453" width="1" height="1" fill="#2bae6f"/><rect x="208" y="453" width="1" height="1" fill="#2bae6f"/><rect x="211" y="453" width="1" height="1" fill="#2bae6f"/><rect x="214" y="453" width="1" height="1" fill="#2bae6f"/><rect x="217" y="453" width="1" height="1" fill="#2bae6f"/><rect x="220" y="453" width="1" height="1" fill="#2bae6f"/><rect x="223" y="453" width="1" height="1" fill="#2bae6f"/><rect x="226" y="453" width="1" height="1" fill="#2bae6f"/><rect x="229" y="453" width="1" height="1" fill="#2bae6f"/><rect x="232" y="453" width="1" height="1" fill="#2bae6f"/><rect x="235" y="453" width="1" height="1" fill="#2bae6f"/><rect x="238" y="453" width="1" height="1" fill="#2bae6f"/><rect x="241" y="453" width="1" height="1" fill="#2bae6f"/><rect x="244" y="453" width="1" height="1" fill="#2bae6f"/><rect x="247" y="453" width="1" height="1" fill="#2bae6f"/><rect x="250" y="453" width="1" height="1" fill="#2bae6f"/><rect x="253" y="453" width="1" height="1" fill="#2bae6f"/><rect x="256" y="453" width="1" height="1" fill="#2bae6f"/><rect x="259" y="453" width="1" height="1" fill="#2bae6f"/><rect x="262" y="453" width="1" height="1" fill="#2bae6f"/><rect x="265" y="453" width="1" height="1" fill="#2bae6f"/><rect x="268" y="453" width="1" height="1" fill="#2bae6f"/><rect x="271" y="453" width="1" height="1" fill="#2bae6f"/><rect x="274" y="453" width="1" height="1" fill="#2bae6f"/><rect x="277" y="453" width="1" height="1" fill="#2bae6f"/><rect x="280" y="453" width="1" height="1" fill="#2bae6f"/><rect x="283" y="453" width="1" height="1" fill="#2bae6f"/><rect x="286" y="453" width="1" height="1" fill="#2bae6f"/><rect x="289" y="453" width="1" height="1" fill="#2bae6f"/><rect x="292" y="453" width="1" height="1" fill="#2bae6f"/><rect x="295" y="453" width="1" height="1" fill="#2bae6f"/><rect x="298" y="453" width="1" height="1" fill="#2bae6f"/><rect x="301" y="453" width="1" height="1" fill="#2bae6f"/><rect x="304" y="453" width="1" height="1" fill="#2bae6f"/><rect x="307" y="453" width="1" height="1" fill="#2bae6f"/><rect x="310" y="453" width="1" height="1" fill="#2bae6f"/><rect x="313" y="453" width="1" height="1" fill="#2bae6f"/><rect x="316" y="453" width="1" height="1" fill="#2bae6f"/><rect x="319" y="453" width="1" height="1" fill="#2bae6f"/><rect x="322" y="453" width="1" height="1" fill="#2bae6f"/><rect x="325" y="453" width="1" height="1" fill="#2bae6f"/><rect x="328" y="453" width="1" height="1" fill="#2bae6f"/><rect x="331" y="453" width="1" height="1" fill="#2bae6f"/><rect x="334" y="453" width="1" height="1" fill="#2bae6f"/><rect x="337" y="453" width="1" height="1" fill="#2bae6f"/><rect x="340" y="453" width="1" height="1" fill="#2bae6f"/><rect x="343" y="453" width="1" height="1" fill="#2bae6f"/><rect x="346" y="453" width="1" height="1" fill="#2bae6f"/><rect x="349" y="453" width="1" height="1" fill="#2bae6f"/><rect x="352" y="453" width="1" height="1" fill="#2bae6f"/><rect x="355" y="453" width="1" height="1" fill="#2bae6f"/><rect x="358" y="453" width="1" height="1" fill="#2bae6f"/><rect x="361" y="453" width="1" height="1" fill="#2bae6f"/><rect x="364" y="453" width="1" height="1" fill="#2bae6f"/><rect x="367" y="453" width="1" height="1" fill="#2bae6f"/><rect x="370" y="453" width="1" height="1" fill="#2bae6f"/><rect x="373" y="453" width="1" height="1" fill="#2bae6f"/><rect x="376" y="453" width="1" height="1" fill="#2bae6f"/><rect x="379" y="453" width="1" height="1" fill="#2bae6f"/><rect x="382" y="453" width="1" height="1" fill="#2bae6f"/><rect x="385" y="453" width="1" height="1" fill="#2bae6f"/><rect x="388" y="453" width="1" height="1" fill="#2bae6f"/><rect x="391" y="453" width="1" height="1" fill="#2bae6f"/><rect x="394" y="453" width="1" height="1" fill="#2bae6f"/><rect x="397" y="453" width="1" height="1" fill="#2bae6f"/><rect x="400" y="453" width="1" height="1" fill="#2bae6f"/><rect x="403" y="453" width="1" height="1" fill="#2bae6f"/><rect x="406" y="453" width="1" height="1" fill="#2bae6f"/><rect x="409" y="453" width="1" height="1" fill="#2bae6f"/><rect x="412" y="453" width="1" height="1" fill="#2bae6f"/><rect x="415" y="453" width="1" height="1" fill="#2bae6f"/><rect x="418" y="453" width="1" height="1" fill="#2bae6f"/><rect x="421" y="453" width="1" height="1" fill="#2bae6f"/><rect x="424" y="453" width="1" height="1" fill="#2bae6f"/><rect x="427" y="453" width="1" height="1" fill="#2bae6f"/><rect x="430" y="453" width="1" height="1" fill="#2bae6f"/><rect x="433" y="453" width="1" height="1" fill="#2bae6f"/><rect x="436" y="453" width="1" height="1" fill="#2bae6f"/><rect x="439" y="453" width="1" height="1" fill="#2bae6f"/><rect x="442" y="453" width="1" height="1" fill="#2bae6f"/><rect x="445" y="453" width="1" height="1" fill="#2bae6f"/><rect x="448" y="453" width="1" height="1" fill="#2bae6f"/><rect x="451" y="453" width="1" height="1" fill="#2bae6f"/><rect x="454" y="453" width="1" height="1" fill="#2bae6f"/><rect x="457" y="453" width="1" height="1" fill="#2bae6f"/><rect x="460" y="453" width="1" height="1" fill="#2bae6f"/><rect x="463" y="453" width="1" height="1" fill="#2bae6f"/><rect x="466" y="453" width="1" height="1" fill="#2bae6f"/><rect x="469" y="453" width="1" height="1" fill="#2bae6f"/><rect x="472" y="453" width="1" height="1" fill="#2bae6f"/><rect x="475" y="453" width="1" height="1" fill="#2bae6f"/><rect x="478" y="453" width="1" height="1" fill="#2bae6f"/><rect x="481" y="453" width="1" height="1" fill="#2bae6f"/><rect x="484" y="453" width="1" height="1" fill="#2bae6f"/><rect x="487" y="453" width="1" height="1" fill="#2bae6f"/><rect x="490" y="453" width="1" height="1" fill="#2bae6f"/><rect x="493" y="453" width="1" height="1" fill="#2bae6f"/><rect x="496" y="453" width="1" height="1" fill="#2bae6f"/><rect x="499" y="453" width="1" height="1" fill="#2bae6f"/><rect x="502" y="453" width="1" height="1" fill="#2bae6f"/><rect x="505" y="453" width="1" height="1" fill="#2bae6f"/><rect x="508" y="453" width="1" height="1" fill="#2bae6f"/><rect x="511" y="453" width="1" height="1" fill="#2bae6f"/><rect x="514" y="453" width="1" height="1" fill="#2bae6f"/><rect x="517" y="453" width="1" height="1" fill="#2bae6f"/><rect x="520" y="453" width="1" height="1" fill="#2bae6f"/><rect x="523" y="453" width="1" height="1" fill="#2bae6f"/><rect x="526" y="453" width="1" height="1" fill="#2bae6f"/><rect x="529" y="453" width="1" height="1" fill="#2bae6f"/><rect x="532" y="453" width="1" height="1" fill="#2bae6f"/><rect x="535" y="453" width="1" height="1" fill="#2bae6f"/><rect x="538" y="453" width="1" height="1" fill="#2bae6f"/><rect x="541" y="453" width="1" height="1" fill="#2bae6f"/><rect x="544" y="453" width="1" height="1" fill="#2bae6f"/><rect x="547" y="453" width="1" height="1" fill="#2bae6f"/><rect x="550" y="453" width="1" height="1" fill="#2bae6f"/><rect x="553" y="453" width="1" height="1" fill="#2bae6f"/><rect x="556" y="453" width="1" height="1" fill="#2bae6f"/><rect x="559" y="453" width="1" height="1" fill="#2bae6f"/><rect x="562" y="453" width="1" height="1" fill="#2bae6f"/><rect x="565" y="453" width="1" height="1" fill="#2bae6f"/><rect x="568" y="453" width="1" height="1" fill="#2bae6f"/><rect x="571" y="453" width="1" height="1" fill="#2bae6f"/><rect x="574" y="453" width="1" height="1" fill="#2bae6f"/><rect x="577" y="453" width="1" height="1" fill="#2bae6f"/><rect x="580" y="453" width="1" height="1" fill="#2bae6f"/><rect x="583" y="453" width="1" height="1" fill="#2bae6f"/><rect x="586" y="453" width="1" height="1" fill="#2bae6f"/><rect x="589" y="453" width="1" height="1" fill="#2bae6f"/><rect x="592" y="453" width="1" height="1" fill="#2bae6f"/><rect x="595" y="453" width="1" height="1" fill="#2bae6f"/><rect x="598" y="453" width="1" height="1" fill="#2bae6f"/><rect x="601" y="453" width="1" height="1" fill="#2bae6f"/><rect x="604" y="453" width="1" height="1" fill="#2bae6f"/><rect x="607" y="453" width="1" height="1" fill="#2bae6f"/><rect x="610" y="453" width="1" height="1" fill="#2bae6f"/><rect x="613" y="453" width="1" height="1" fill="#2bae6f"/><rect x="616" y="453" width="1" height="1" fill="#2bae6f"/><rect x="619" y="453" width="1" height="1" fill="#2bae6f"/><rect x="622" y="453" width="1" height="1" fill="#2bae6f"/><rect x="625" y="453" width="1" height="1" fill="#2bae6f"/><rect x="628" y="453" width="1" height="1" fill="#2bae6f"/><rect x="631" y="453" width="1" height="1" fill="#2bae6f"/><rect x="634" y="453" width="1" height="1" fill="#2bae6f"/><rect x="637" y="453" width="1" height="1" fill="#2bae6f"/><rect x="640" y="453" width="1" height="1" fill="#2bae6f"/><rect x="643" y="453" width="1" height="1" fill="#2bae6f"/><rect x="646" y="453" width="1" height="1" fill="#2bae6f"/><rect x="649" y="453" width="1" height="1" fill="#2bae6f"/><rect x="652" y="453" width="1" height="1" fill="#2bae6f"/><rect x="655" y="453" width="1" height="1" fill="#2bae6f"/><rect x="658" y="453" width="1" height="1" fill="#2bae6f"/><rect x="661" y="453" width="1" height="1" fill="#2bae6f"/><rect x="664" y="453" width="1" height="1" fill="#2bae6f"/><rect x="667" y="453" width="1" height="1" fill="#2bae6f"/><rect x="670" y="453" width="1" height="1" fill="#2bae6f"/><rect x="673" y="453" width="1" height="1" fill="#2bae6f"/><rect x="676" y="453" width="1" height="1" fill="#2bae6f"/><rect x="679" y="453" width="1" height="1" fill="#2bae6f"/><rect x="682" y="453" width="1" height="1" fill="#2bae6f"/><rect x="685" y="453" width="1" height="1" fill="#2bae6f"/><rect x="688" y="453" width="1" height="1" fill="#2bae6f"/><rect x="691" y="453" width="1" height="1" fill="#2bae6f"/><rect x="694" y="453" width="1" height="1" fill="#2bae6f"/><rect x="697" y="453" width="1" height="1" fill="#2bae6f"/><rect x="700" y="453" width="1" height="1" fill="#2bae6f"/><rect x="703" y="453" width="1" height="1" fill="#2bae6f"/><rect x="706" y="453" width="1" height="1" fill="#2bae6f"/><rect x="709" y="453" width="1" height="1" fill="#2bae6f"/><rect x="712" y="453" width="1" height="1" fill="#2bae6f"/><rect x="715" y="453" width="1" height="1" fill="#2bae6f"/><rect x="718" y="453" width="1" height="1" fill="#2bae6f"/><rect x="721" y="453" width="1" height="1" fill="#2bae6f"/><rect x="724" y="453" width="1" height="1" fill="#2bae6f"/><rect x="727" y="453" width="1" height="1" fill="#2bae6f"/><rect x="730" y="453" width="1" height="1" fill="#2bae6f"/><rect x="733" y="453" width="1" height="1" fill="#2bae6f"/><rect x="736" y="453" width="1" height="1" fill="#2bae6f"/><rect x="739" y="453" width="1" height="1" fill="#2bae6f"/><rect x="742" y="453" width="1" height="1" fill="#2bae6f"/><rect x="745" y="453" width="1" height="1" fill="#2bae6f"/><rect x="748" y="453" width="1" height="1" fill="#2bae6f"/><rect x="751" y="453" width="1" height="1" fill="#2bae6f"/><rect x="754" y="453" width="1" height="1" fill="#2bae6f"/><rect x="757" y="453" width="1" height="1" fill="#2bae6f"/><rect x="760" y="453" width="1" height="1" fill="#2bae6f"/><rect x="763" y="453" width="1" height="1" fill="#2bae6f"/><rect x="766" y="453" width="1" height="1" fill="#2bae6f"/><rect x="769" y="453" width="1" height="1" fill="#2bae6f"/><rect x="772" y="453" width="1" height="1" fill="#2bae6f"/><rect x="775" y="453" width="1" height="1" fill="#2bae6f"/><rect x="778" y="453" width="1" height="1" fill="#2bae6f"/><rect x="781" y="453" width="1" height="1" fill="#2bae6f"/><rect x="784" y="453" width="1" height="1" fill="#2bae6f"/><rect x="787" y="453" width="1" height="1" fill="#2bae6f"/><rect x="790" y="453" width="1" height="1" fill="#2bae6f"/><rect x="793" y="453" width="1" height="1" fill="#2bae6f"/><rect x="796" y="453" width="1" height="1" fill="#2bae6f"/><rect x="799" y="453" width="1" height="1" fill="#2bae6f"/><rect x="802" y="453" width="1" height="1" fill="#2bae6f"/><rect x="805" y="453" width="1" height="1" fill="#2bae6f"/><rect x="808" y="453" width="1" height="1" fill="#2bae6f"/><rect x="811" y="453" width="1" height="1" fill="#2bae6f"/><rect x="814" y="453" width="1" height="1" fill="#2bae6f"/><rect x="817" y="453" width="1" height="1" fill="#2bae6f"/><rect x="820" y="453" width="1" height="1" fill="#2bae6f"/><rect x="823" y="453" width="1" height="1" fill="#2bae6f"/><rect x="826" y="453" width="1" height="1" fill="#2bae6f"/><rect x="829" y="453" width="1" height="1" fill="#2bae6f"/><rect x="832" y="453" width="1" height="1" fill="#2bae6f"/><rect x="835" y="453" width="1" height="1" fill="#2bae6f"/><rect x="838" y="453" width="1" height="1" fill="#2bae6f"/><rect x="841" y="453" width="1" height="1" fill="#2bae6f"/><rect x="844" y="453" width="1" height="1" fill="#2bae6f"/><rect x="847" y="453" width="1" height="1" fill="#2bae6f"/><rect x="850" y="453" width="1" height="1" fill="#2bae6f"/><rect x="853" y="453" width="1" height="1" fill="#2bae6f"/><rect x="856" y="453" width="1" height="1" fill="#2bae6f"/><rect x="859" y="453" width="1" height="1" fill="#2bae6f"/><rect x="862" y="453" width="1" height="1" fill="#2bae6f"/><rect x="865" y="453" width="1" height="1" fill="#2bae6f"/><rect x="868" y="453" width="1" height="1" fill="#2bae6f"/><rect x="871" y="453" width="1" height="1" fill="#2bae6f"/><rect x="874" y="453" width="1" height="1" fill="#2bae6f"/><rect x="877" y="453" width="1" height="1" fill="#2bae6f"/><rect x="880" y="453" width="1" height="1" fill="#2bae6f"/><rect x="883" y="453" width="1" height="1" fill="#2bae6f"/><rect x="886" y="453" width="1" height="1" fill="#2bae6f"/><rect x="889" y="453" width="1" height="1" fill="#2bae6f"/><rect x="892" y="453" width="1" height="1" fill="#2bae6f"/><rect x="895" y="453" width="1" height="1" fill="#2bae6f"/><rect x="898" y="453" width="1" height="1" fill="#2bae6f"/><rect x="901" y="453" width="1" height="1" fill="#2bae6f"/><rect x="904" y="453" width="1" height="1" fill="#2bae6f"/><rect x="907" y="453" width="1" height="1" fill="#2bae6f"/><rect x="910" y="453" width="1" height="1" fill="#2bae6f"/><rect x="913" y="453" width="1" height="1" fill="#2bae6f"/><rect x="916" y="453" width="1" height="1" fill="#2bae6f"/><rect x="919" y="453" width="1" height="1" fill="#2bae6f"/><rect x="922" y="453" width="1" height="1" fill="#2bae6f"/><rect x="925" y="453" width="1" height="1" fill="#2bae6f"/><rect x="928" y="453" width="1" height="1" fill="#2bae6f"/><rect x="931" y="453" width="1" height="1" fill="#2bae6f"/><rect x="934" y="453" width="1" height="1" fill="#2bae6f"/><rect x="937" y="453" width="1" height="1" fill="#2bae6f"/><rect x="940" y="453" width="1" height="1" fill="#2bae6f"/><rect x="943" y="453" width="1" height="1" fill="#2bae6f"/><rect x="946" y="453" width="1" height="1" fill="#2bae6f"/><rect x="949" y="453" width="1" height="1" fill="#2bae6f"/><rect x="952" y="453" width="1" height="1" fill="#2bae6f"/><rect x="955" y="453" width="1" height="1" fill="#2bae6f"/><rect x="958" y="453" width="1" height="1" fill="#2bae6f"/><rect x="961" y="453" width="1" height="1" fill="#2bae6f"/><rect x="964" y="453" width="1" height="1" fill="#2bae6f"/><rect x="967" y="453" width="1" height="1" fill="#2bae6f"/><rect x="970" y="453" width="1" height="1" fill="#2bae6f"/><rect x="973" y="453" width="1" height="1" fill="#2bae6f"/><rect x="976" y="453" width="1" height="1" fill="#2bae6f"/><rect x="979" y="453" width="1" height="1" fill="#2bae6f"/><rect x="982" y="453" width="1" height="1" fill="#2bae6f"/><rect x="985" y="453" width="1" height="1" fill="#2bae6f"/><rect x="988" y="453" width="1" height="1" fill="#2bae6f"/><rect x="991" y="453" width="1" height="1" fill="#2bae6f"/><rect x="994" y="453" width="1" height="1" fill="#2bae6f"/><rect x="997" y="453" width="1" height="1" fill="#2bae6f"/><rect x="1000" y="453" width="1" height="1" fill="#2bae6f"/><rect x="1003" y="453" width="1" height="1" fill="#2bae6f"/><rect x="1006" y="453" width="1" height="1" fill="#2bae6f"/><rect x="1009" y="453" width="1" height="1" fill="#2bae6f"/><rect x="1012" y="453" width="1" height="1" fill="#2bae6f"/><rect x="1015" y="453" width="1" height="1" fill="#2bae6f"/><rect x="1018" y="453" width="1" height="1" fill="#2bae6f"/><rect x="1021" y="453" width="1" height="1" fill="#2bae6f"/><rect x="1024" y="453" width="1" height="1" fill="#2bae6f"/><rect x="1027" y="453" width="1" height="1" fill="#2bae6f"/><rect x="1030" y="453" width="1" height="1" fill="#2bae6f"/><rect x="1033" y="453" width="1" height="1" fill="#2bae6f"/><rect x="1036" y="453" width="1" height="1" fill="#2bae6f"/><rect x="1039" y="453" width="1" height="1" fill="#2bae6f"/><rect x="1042" y="453" width="1" height="1" fill="#2bae6f"/><rect x="1045" y="453" width="1" height="1" fill="#2bae6f"/><rect x="1048" y="453" width="1" height="1" fill="#2bae6f"/><rect x="1051" y="453" width="1" height="1" fill="#2bae6f"/><rect x="1054" y="453" width="1" height="1" fill="#2bae6f"/><rect x="1057" y="453" width="1" height="1" fill="#2bae6f"/><rect x="1060" y="453" width="1" height="1" fill="#2bae6f"/><rect x="1063" y="453" width="1" height="1" fill="#2bae6f"/><rect x="1066" y="453" width="1" height="1" fill="#2bae6f"/><rect x="1069" y="453" width="1" height="1" fill="#2bae6f"/><rect x="1072" y="453" width="1" height="1" fill="#2bae6f"/><rect x="1075" y="453" width="1" height="1" fill="#2bae6f"/><rect x="1078" y="453" width="1" height="1" fill="#2bae6f"/><rect x="1081" y="453" width="1" height="1" fill="#2bae6f"/><rect x="1084" y="453" width="1" height="1" fill="#2bae6f"/><rect x="1087" y="453" width="1" height="1" fill="#2bae6f"/><rect x="1090" y="453" width="1" height="1" fill="#2bae6f"/><rect x="1093" y="453" width="1" height="1" fill="#2bae6f"/><rect x="1096" y="453" width="1" height="1" fill="#2bae6f"/><rect x="1099" y="453" width="1" height="1" fill="#2bae6f"/><rect x="1102" y="453" width="1" height="1" fill="#2bae6f"/><rect x="1105" y="453" width="1" height="1" fill="#2bae6f"/><rect x="1108" y="453" width="1" height="1" fill="#2bae6f"/><rect x="1111" y="453" width="1" height="1" fill="#2bae6f"/><rect x="1114" y="453" width="1" height="1" fill="#2bae6f"/><rect x="1117" y="453" width="1" height="1" fill="#2bae6f"/><rect x="1120" y="453" width="1" height="1" fill="#2bae6f"/><rect x="1123" y="453" width="1" height="1" fill="#2bae6f"/><rect x="1126" y="453" width="1" height="1" fill="#2bae6f"/><rect x="1129" y="453" width="1" height="1" fill="#2bae6f"/><rect x="1132" y="453" width="1" height="1" fill="#2bae6f"/><rect x="1135" y="453" width="1" height="1" fill="#2bae6f"/><rect x="1138" y="453" width="1" height="1" fill="#2bae6f"/><rect x="1141" y="453" width="1" height="1" fill="#2bae6f"/><rect x="1144" y="453" width="1" height="1" fill="#2bae6f"/><rect x="1147" y="453" width="1" height="1" fill="#2bae6f"/><rect x="1150" y="453" width="1" height="1" fill="#2bae6f"/><rect x="1153" y="453" width="1" height="1" fill="#2bae6f"/><rect x="1156" y="453" width="1" height="1" fill="#2bae6f"/><rect x="1159" y="453" width="1" height="1" fill="#2bae6f"/><rect x="1162" y="453" width="1" height="1" fill="#2bae6f"/><rect x="1165" y="453" width="1" height="1" fill="#2bae6f"/><rect x="1168" y="453" width="1" height="1" fill="#2bae6f"/><rect x="1171" y="453" width="1" height="1" fill="#2bae6f"/><rect x="1174" y="453" width="1" height="1" fill="#2bae6f"/><rect x="1177" y="453" width="1" height="1" fill="#2bae6f"/><rect x="1180" y="453" width="1" height="1" fill="#2bae6f"/><rect x="1183" y="453" width="1" height="1" fill="#2bae6f"/><rect x="1186" y="453" width="1" height="1" fill="#2bae6f"/><rect x="1189" y="453" width="1" height="1" fill="#2bae6f"/><rect x="1192" y="453" width="1" height="1" fill="#2bae6f"/><rect x="1195" y="453" width="1" height="1" fill="#2bae6f"/><rect x="1198" y="453" width="1" height="1" fill="#2bae6f"/><rect x="1201" y="453" width="1" height="1" fill="#2bae6f"/><rect x="1204" y="453" width="1" height="1" fill="#2bae6f"/><rect x="1207" y="453" width="1" height="1" fill="#2bae6f"/><rect x="1210" y="453" width="1" height="1" fill="#2bae6f"/><rect x="1213" y="453" width="1" height="1" fill="#2bae6f"/><rect x="1216" y="453" width="1" height="1" fill="#2bae6f"/><rect x="1219" y="453" width="1" height="1" fill="#2bae6f"/><rect x="1222" y="453" width="1" height="1" fill="#2bae6f"/><rect x="1225" y="453" width="1" height="1" fill="#2bae6f"/><rect x="1228" y="453" width="1" height="1" fill="#2bae6f"/><rect x="1231" y="453" width="1" height="1" fill="#2bae6f"/><rect x="1234" y="453" width="1" height="1" fill="#2bae6f"/><rect x="1237" y="453" width="1" height="1" fill="#2bae6f"/><rect x="1240" y="453" width="1" height="1" fill="#2bae6f"/><rect x="1243" y="453" width="1" height="1" fill="#2bae6f"/><rect x="1246" y="453" width="1" height="1" fill="#2bae6f"/><rect x="1249" y="453" width="1" height="1" fill="#2bae6f"/><rect x="1252" y="453" width="1" height="1" fill="#2bae6f"/><rect x="1255" y="453" width="1" height="1" fill="#2bae6f"/><rect x="1258" y="453" width="1" height="1" fill="#2bae6f"/><rect x="1261" y="453" width="1" height="1" fill="#2bae6f"/><rect x="1264" y="453" width="1" height="1" fill="#2bae6f"/><rect x="1267" y="453" width="1" height="1" fill="#2bae6f"/><rect x="1270" y="453" width="1" height="1" fill="#2bae6f"/><rect x="1273" y="453" width="1" height="1" fill="#2bae6f"/><rect x="1276" y="453" width="1" height="1" fill="#2bae6f"/><rect x="1279" y="453" width="1" height="1" fill="#2bae6f"/><rect x="1282" y="453" width="1" height="1" fill="#2bae6f"/><rect x="1285" y="453" width="1" height="1" fill="#2bae6f"/><rect x="1288" y="453" width="1" height="1" fill="#2bae6f"/><rect x="1291" y="453" width="1" height="1" fill="#2bae6f"/><rect x="1294" y="453" width="1" height="1" fill="#2bae6f"/><rect x="1297" y="453" width="1" height="1" fill="#2bae6f"/><rect x="1300" y="453" width="1" height="1" fill="#2bae6f"/><rect x="1303" y="453" width="1" height="1" fill="#2bae6f"/><rect x="1306" y="453" width="1" height="1" fill="#2bae6f"/><rect x="1309" y="453" width="1" height="1" fill="#2bae6f"/><rect x="1312" y="453" width="1" height="1" fill="#2bae6f"/><rect x="1315" y="453" width="1" height="1" fill="#2bae6f"/><rect x="1318" y="453" width="1" height="1" fill="#2bae6f"/><rect x="1321" y="453" width="1" height="1" fill="#2bae6f"/><rect x="1324" y="453" width="1" height="1" fill="#2bae6f"/><rect x="1327" y="453" width="1" height="1" fill="#2bae6f"/><rect x="1330" y="453" width="1" height="1" fill="#2bae6f"/><rect x="1333" y="453" width="1" height="1" fill="#2bae6f"/><rect x="1336" y="453" width="1" height="1" fill="#2bae6f"/><rect x="1339" y="453" width="1" height="1" fill="#2bae6f"/><rect x="1342" y="453" width="1" height="1" fill="#2bae6f"/><rect x="1345" y="453" width="1" height="1" fill="#2bae6f"/><rect x="1348" y="453" width="1" height="1" fill="#2bae6f"/><rect x="1351" y="453" width="1" height="1" fill="#2bae6f"/><rect x="1354" y="453" width="1" height="1" fill="#2bae6f"/><rect x="1357" y="453" width="1" height="1" fill="#2bae6f"/><rect x="1360" y="453" width="1" height="1" fill="#2bae6f"/><rect x="1363" y="453" width="1" height="1" fill="#2bae6f"/><rect x="1366" y="453" width="1" height="1" fill="#2bae6f"/><rect x="1369" y="453" width="1" height="1" fill="#2bae6f"/><rect x="1372" y="453" width="1" height="1" fill="#2bae6f"/><rect x="1375" y="453" width="1" height="1" fill="#2bae6f"/><rect x="1378" y="453" width="1" height="1" fill="#2bae6f"/><rect x="1381" y="453" width="1" height="1" fill="#2bae6f"/><rect x="1384" y="453" width="1" height="1" fill="#2bae6f"/><rect x="1387" y="453" width="1" height="1" fill="#2bae6f"/><rect x="1390" y="453" width="1" height="1" fill="#2bae6f"/><rect x="1393" y="453" width="1" height="1" fill="#2bae6f"/><rect x="1396" y="453" width="1" height="1" fill="#2bae6f"/><rect x="1399" y="453" width="1" height="1" fill="#2bae6f"/><rect x="1402" y="453" width="1" height="1" fill="#2bae6f"/><rect x="1405" y="453" width="1" height="1" fill="#2bae6f"/><rect x="1408" y="453" width="1" height="1" fill="#2bae6f"/><rect x="1411" y="453" width="1" height="1" fill="#2bae6f"/><rect x="1414" y="453" width="1" height="1" fill="#2bae6f"/><rect x="1417" y="453" width="1" height="1" fill="#2bae6f"/><rect x="1420" y="453" width="1" height="1" fill="#2bae6f"/><rect x="1423" y="453" width="1" height="1" fill="#2bae6f"/><rect x="1426" y="453" width="1" height="1" fill="#2bae6f"/><rect x="1429" y="453" width="1" height="1" fill="#2bae6f"/><rect x="1432" y="453" width="1" height="1" fill="#2bae6f"/><rect x="1435" y="453" width="1" height="1" fill="#2bae6f"/><rect x="1438" y="453" width="1" height="1" fill="#2bae6f"/><rect x="1441" y="453" width="1" height="1" fill="#2bae6f"/><rect x="1444" y="453" width="1" height="1" fill="#2bae6f"/><rect x="1447" y="453" width="1" height="1" fill="#2bae6f"/></g>
</svg>
<div id="vsep"></div><div id="hsep"></div>
<div id="legend">BITCOIN <span class="d">·</span> 1T <span class="d">·</span> XTB  O<span class="v">68.112,4</span>  H<span class="v">69.159,6</span>  L<span class="v">67.425,4</span>  C<span class="v">68.598,1</span></div>
<div class="pl" style="top:33px">130.000,0</div>
<div class="pl" style="top:100px">120.000,0</div>
<div class="pl" style="top:167px">110.000,0</div>
<div class="pl" style="top:234px">100.000,0</div>
<div class="pl" style="top:301px">90.000,0</div>
<div class="pl" style="top:368px">80.000,0</div>
<div class="pl" style="top:435px">70.000,0</div>
<div class="pl" style="top:503px">60.000,0</div>
<div class="tl" style="left:13px">Mai</div>
<div class="tl" style="left:135px">Jun</div>
<div class="tl" style="left:254px">Jul</div>
<div class="tl" style="left:377px">Aug</div>
<div class="tl" style="left:500px">Sep</div>
<div class="tl" style="left:618px">Okt</div>
<div class="tl" style="left:741px">Nov</div>
<div class="tl" style="left:860px">Dez</div>
<div class="tl b" style="left:982px">2026</div>
<div class="tl" style="left:1105px">Feb</div>
<div class="tl" style="left:1216px">Mrz</div>
<div class="tl" style="left:1339px">Apr</div>
<div id="cur"><span>68.598,1</span></div>
</body></html>
